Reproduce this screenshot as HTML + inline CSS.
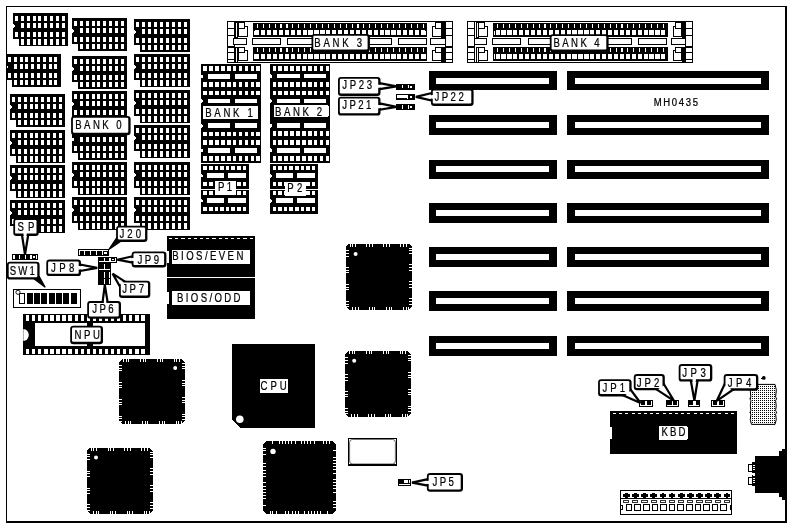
<!DOCTYPE html>
<html><head><meta charset="utf-8"><title>Motherboard layout</title>
<style>
html,body{margin:0;padding:0;background:#fff;}
svg{display:block;filter:grayscale(1);}
text{font-family:"Liberation Sans",sans-serif;fill:#000;}
</style></head><body>
<svg width="791" height="527" viewBox="0 0 791 527" shape-rendering="crispEdges">
<rect width="791" height="527" fill="#fff"/>
<rect x="6.00" y="6.00" width="781.00" height="1.00" fill="#000" />
<rect x="6.00" y="6.00" width="1.00" height="517.00" fill="#000" />
<rect x="785.00" y="6.00" width="2.00" height="517.00" fill="#000" />
<rect x="6.00" y="521.00" width="781.00" height="2.00" fill="#000" />
<defs>
<g id="ram">
<polygon points="0,0 55,0 55,33 6,33 6,26 0,26 0,15 2,14 2,12 0,11" fill="#000"/>
<rect x="2.20" y="3.00" width="3.05" height="5.00" fill="#fff" />
<rect x="8.00" y="3.00" width="3.05" height="5.00" fill="#fff" />
<rect x="13.80" y="3.00" width="3.05" height="5.00" fill="#fff" />
<rect x="19.60" y="3.00" width="3.05" height="5.00" fill="#fff" />
<rect x="25.40" y="3.00" width="3.05" height="5.00" fill="#fff" />
<rect x="31.20" y="3.00" width="3.05" height="5.00" fill="#fff" />
<rect x="37.00" y="3.00" width="3.05" height="5.00" fill="#fff" />
<rect x="42.80" y="3.00" width="3.05" height="5.00" fill="#fff" />
<rect x="48.60" y="3.00" width="3.05" height="5.00" fill="#fff" />
<rect x="8.00" y="10.00" width="3.05" height="5.00" fill="#fff" />
<rect x="13.80" y="10.00" width="3.05" height="5.00" fill="#fff" />
<rect x="19.60" y="10.00" width="3.05" height="5.00" fill="#fff" />
<rect x="25.40" y="10.00" width="3.05" height="5.00" fill="#fff" />
<rect x="31.20" y="10.00" width="3.05" height="5.00" fill="#fff" />
<rect x="37.00" y="10.00" width="3.05" height="5.00" fill="#fff" />
<rect x="42.80" y="10.00" width="3.05" height="5.00" fill="#fff" />
<rect x="48.60" y="10.00" width="3.05" height="5.00" fill="#fff" />
<rect x="2.20" y="19.00" width="3.05" height="5.00" fill="#fff" />
<rect x="8.00" y="19.00" width="3.05" height="5.00" fill="#fff" />
<rect x="13.80" y="19.00" width="3.05" height="5.00" fill="#fff" />
<rect x="19.60" y="19.00" width="3.05" height="5.00" fill="#fff" />
<rect x="25.40" y="19.00" width="3.05" height="5.00" fill="#fff" />
<rect x="31.20" y="19.00" width="3.05" height="5.00" fill="#fff" />
<rect x="37.00" y="19.00" width="3.05" height="5.00" fill="#fff" />
<rect x="42.80" y="19.00" width="3.05" height="5.00" fill="#fff" />
<rect x="48.60" y="19.00" width="3.05" height="5.00" fill="#fff" />
<rect x="8.00" y="26.00" width="3.05" height="5.50" fill="#fff" />
<rect x="13.80" y="26.00" width="3.05" height="5.50" fill="#fff" />
<rect x="19.60" y="26.00" width="3.05" height="5.50" fill="#fff" />
<rect x="25.40" y="26.00" width="3.05" height="5.50" fill="#fff" />
<rect x="31.20" y="26.00" width="3.05" height="5.50" fill="#fff" />
<rect x="37.00" y="26.00" width="3.05" height="5.50" fill="#fff" />
<rect x="42.80" y="26.00" width="3.05" height="5.50" fill="#fff" />
<rect x="48.60" y="26.00" width="3.05" height="5.50" fill="#fff" />
</g>
<g id="dip10">
<rect x="0.00" y="0.00" width="60.00" height="24.90" fill="#000" />
<rect x="2.30" y="2.30" width="3.60" height="4.40" fill="#fff" />
<rect x="2.30" y="18.20" width="3.60" height="4.60" fill="#fff" />
<rect x="8.20" y="2.30" width="3.60" height="4.40" fill="#fff" />
<rect x="8.20" y="18.20" width="3.60" height="4.60" fill="#fff" />
<rect x="14.10" y="2.30" width="3.60" height="4.40" fill="#fff" />
<rect x="14.10" y="18.20" width="3.60" height="4.60" fill="#fff" />
<rect x="20.00" y="2.30" width="3.60" height="4.40" fill="#fff" />
<rect x="20.00" y="18.20" width="3.60" height="4.60" fill="#fff" />
<rect x="25.90" y="2.30" width="3.60" height="4.40" fill="#fff" />
<rect x="25.90" y="18.20" width="3.60" height="4.60" fill="#fff" />
<rect x="31.80" y="2.30" width="3.60" height="4.40" fill="#fff" />
<rect x="31.80" y="18.20" width="3.60" height="4.60" fill="#fff" />
<rect x="37.70" y="2.30" width="3.60" height="4.40" fill="#fff" />
<rect x="37.70" y="18.20" width="3.60" height="4.60" fill="#fff" />
<rect x="43.60" y="2.30" width="3.60" height="4.40" fill="#fff" />
<rect x="43.60" y="18.20" width="3.60" height="4.60" fill="#fff" />
<rect x="49.50" y="2.30" width="3.60" height="4.40" fill="#fff" />
<rect x="49.50" y="18.20" width="3.60" height="4.60" fill="#fff" />
<rect x="55.40" y="2.30" width="3.60" height="4.40" fill="#fff" />
<rect x="55.40" y="18.20" width="3.60" height="4.60" fill="#fff" />
<rect x="7.00" y="10.00" width="22.30" height="4.60" fill="#fff" />
<rect x="34.00" y="10.00" width="21.50" height="4.60" fill="#fff" />
<polygon points="0,10.5 2,11.5 2,13.5 0,14.5" fill="#fff"/>
</g>
<g id="dip8">
<rect x="0.00" y="0.00" width="48.00" height="24.90" fill="#000" />
<rect x="2.30" y="1.50" width="3.60" height="4.20" fill="#fff" />
<rect x="2.30" y="17.30" width="3.60" height="4.80" fill="#fff" />
<rect x="7.90" y="1.50" width="3.60" height="4.20" fill="#fff" />
<rect x="7.90" y="17.30" width="3.60" height="4.80" fill="#fff" />
<rect x="13.50" y="1.50" width="3.60" height="4.20" fill="#fff" />
<rect x="13.50" y="17.30" width="3.60" height="4.80" fill="#fff" />
<rect x="19.10" y="1.50" width="3.60" height="4.20" fill="#fff" />
<rect x="19.10" y="17.30" width="3.60" height="4.80" fill="#fff" />
<rect x="24.70" y="1.50" width="3.60" height="4.20" fill="#fff" />
<rect x="24.70" y="17.30" width="3.60" height="4.80" fill="#fff" />
<rect x="30.30" y="1.50" width="3.60" height="4.20" fill="#fff" />
<rect x="30.30" y="17.30" width="3.60" height="4.80" fill="#fff" />
<rect x="35.90" y="1.50" width="3.60" height="4.20" fill="#fff" />
<rect x="35.90" y="17.30" width="3.60" height="4.80" fill="#fff" />
<rect x="41.50" y="1.50" width="3.60" height="4.20" fill="#fff" />
<rect x="41.50" y="17.30" width="3.60" height="4.80" fill="#fff" />
<rect x="5.50" y="9.20" width="17.50" height="4.30" fill="#fff" />
<rect x="27.00" y="9.20" width="18.00" height="4.30" fill="#fff" />
<polygon points="0,10 2,11 2,12.5 0,13.5" fill="#fff"/>
</g>
<pattern id="dots" width="2" height="2" patternUnits="userSpaceOnUse"><rect width="2" height="2" fill="#fff"/><rect width="1" height="1" fill="#000"/></pattern>
</defs>
<use href="#ram" x="13" y="13"/>
<use href="#ram" x="5.8" y="53.9"/>
<use href="#ram" x="10" y="93.9"/>
<use href="#ram" x="10" y="130"/>
<use href="#ram" x="10" y="165"/>
<use href="#ram" x="10" y="200.2"/>
<use href="#ram" x="72" y="17.8"/>
<use href="#ram" x="72" y="55.8"/>
<use href="#ram" x="72" y="90.8"/>
<use href="#ram" x="72" y="126.7"/>
<use href="#ram" x="72" y="162"/>
<use href="#ram" x="72" y="197"/>
<use href="#ram" transform="translate(134,18.9) scale(1.02,1)"/>
<use href="#ram" transform="translate(134,54.1) scale(1.02,1)"/>
<use href="#ram" transform="translate(134,90) scale(1.02,1)"/>
<use href="#ram" transform="translate(134,125) scale(1.02,1)"/>
<use href="#ram" transform="translate(134,162) scale(1.02,1)"/>
<use href="#ram" transform="translate(134,197) scale(1.02,1)"/>
<use href="#dip10" x="201" y="64.00"/>
<use href="#dip10" x="270.3" y="63.80"/>
<use href="#dip10" x="201" y="88.70"/>
<use href="#dip10" x="270.3" y="88.50"/>
<use href="#dip10" x="201" y="113.40"/>
<use href="#dip10" x="270.3" y="113.20"/>
<use href="#dip10" x="201" y="138.10"/>
<use href="#dip10" x="270.3" y="137.90"/>
<use href="#dip8" x="201" y="164.20"/>
<use href="#dip8" x="270.2" y="164.20"/>
<use href="#dip8" x="201" y="189.20"/>
<use href="#dip8" x="270.2" y="189.20"/>
<rect x="201.00" y="188.90" width="48.00" height="0.80" fill="#fff" />
<rect x="270.20" y="188.90" width="48.00" height="0.80" fill="#fff" />
<rect x="227.50" y="21.60" width="224.80" height="40.50" fill="#fff" stroke="#000" stroke-width="1" rx="0"/>
<rect x="227.50" y="21.60" width="6.80" height="6.50" fill="#fff" stroke="#000" stroke-width="1" rx="0"/>
<rect x="227.50" y="28.50" width="6.80" height="6.60" fill="#fff" stroke="#000" stroke-width="1" rx="0"/>
<rect x="227.50" y="35.50" width="6.80" height="11.20" fill="#fff" stroke="#000" stroke-width="1" rx="0"/>
<rect x="227.50" y="47.10" width="6.80" height="5.40" fill="#fff" stroke="#000" stroke-width="1" rx="0"/>
<rect x="227.50" y="52.90" width="6.80" height="6.40" fill="#fff" stroke="#000" stroke-width="1" rx="0"/>
<rect x="227.50" y="59.70" width="6.80" height="2.40" fill="#fff" stroke="#000" stroke-width="1" rx="0"/>
<rect x="235.30" y="21.10" width="3.10" height="16.40" fill="#000" />
<rect x="235.30" y="46.50" width="3.10" height="16.10" fill="#000" />
<rect x="236.30" y="22.60" width="1.00" height="13.90" fill="#fff" />
<rect x="236.30" y="48.00" width="1.00" height="13.60" fill="#fff" />
<rect x="238.50" y="26.70" width="8.60" height="9.60" fill="#fff" stroke="#000" stroke-width="1" rx="0"/>
<rect x="238.50" y="22.90" width="6.00" height="6.00" fill="#fff" stroke="#000" stroke-width="1" rx="0"/>
<rect x="238.50" y="50.70" width="8.60" height="9.60" fill="#fff" stroke="#000" stroke-width="1" rx="0"/>
<rect x="238.50" y="47.00" width="6.00" height="5.90" fill="#fff" stroke="#000" stroke-width="1" rx="0"/>
<rect x="233.70" y="38.80" width="12.90" height="5.70" fill="#fff" stroke="#000" stroke-width="1" rx="0"/>
<rect x="445.50" y="21.60" width="6.80" height="6.50" fill="#fff" stroke="#000" stroke-width="1" rx="0"/>
<rect x="445.50" y="28.50" width="6.80" height="6.60" fill="#fff" stroke="#000" stroke-width="1" rx="0"/>
<rect x="445.50" y="35.50" width="6.80" height="11.20" fill="#fff" stroke="#000" stroke-width="1" rx="0"/>
<rect x="445.50" y="47.10" width="6.80" height="5.40" fill="#fff" stroke="#000" stroke-width="1" rx="0"/>
<rect x="445.50" y="52.90" width="6.80" height="6.40" fill="#fff" stroke="#000" stroke-width="1" rx="0"/>
<rect x="445.50" y="59.70" width="6.80" height="2.40" fill="#fff" stroke="#000" stroke-width="1" rx="0"/>
<rect x="441.40" y="21.10" width="3.10" height="16.40" fill="#000" />
<rect x="441.40" y="46.50" width="3.10" height="16.10" fill="#000" />
<rect x="432.70" y="26.70" width="8.60" height="9.60" fill="#fff" stroke="#000" stroke-width="1" rx="0"/>
<rect x="435.30" y="22.90" width="6.00" height="6.00" fill="#fff" stroke="#000" stroke-width="1" rx="0"/>
<rect x="432.70" y="50.70" width="8.60" height="9.60" fill="#fff" stroke="#000" stroke-width="1" rx="0"/>
<rect x="435.30" y="47.00" width="6.00" height="5.90" fill="#fff" stroke="#000" stroke-width="1" rx="0"/>
<rect x="430.80" y="38.80" width="14.20" height="5.70" fill="#fff" stroke="#000" stroke-width="1" rx="0"/>
<rect x="252.60" y="23.20" width="174.60" height="13.30" fill="#000" />
<rect x="253.60" y="30.50" width="0.90" height="4.50" fill="#fff" />
<rect x="425.20" y="30.50" width="0.90" height="4.50" fill="#fff" />
<rect x="255.20" y="30.00" width="4.20" height="5.40" fill="#fff" />
<rect x="256.80" y="24.20" width="1.10" height="3.90" fill="#fff" />
<rect x="261.12" y="30.00" width="4.20" height="5.40" fill="#fff" />
<rect x="262.72" y="24.20" width="1.10" height="3.90" fill="#fff" />
<rect x="267.04" y="30.00" width="4.20" height="5.40" fill="#fff" />
<rect x="268.64" y="24.20" width="1.10" height="3.90" fill="#fff" />
<rect x="272.96" y="30.00" width="4.20" height="5.40" fill="#fff" />
<rect x="274.56" y="24.20" width="1.10" height="3.90" fill="#fff" />
<rect x="278.88" y="30.00" width="4.20" height="5.40" fill="#fff" />
<rect x="280.48" y="24.20" width="1.10" height="3.90" fill="#fff" />
<rect x="284.80" y="30.00" width="4.20" height="5.40" fill="#fff" />
<rect x="286.40" y="24.20" width="1.10" height="3.90" fill="#fff" />
<rect x="290.72" y="30.00" width="4.20" height="5.40" fill="#fff" />
<rect x="292.32" y="24.20" width="1.10" height="3.90" fill="#fff" />
<rect x="296.64" y="30.00" width="4.20" height="5.40" fill="#fff" />
<rect x="298.24" y="24.20" width="1.10" height="3.90" fill="#fff" />
<rect x="302.56" y="30.00" width="4.20" height="5.40" fill="#fff" />
<rect x="304.16" y="24.20" width="1.10" height="3.90" fill="#fff" />
<rect x="308.48" y="30.00" width="4.20" height="5.40" fill="#fff" />
<rect x="310.08" y="24.20" width="1.10" height="3.90" fill="#fff" />
<rect x="314.40" y="30.00" width="4.20" height="5.40" fill="#fff" />
<rect x="316.00" y="24.20" width="1.10" height="3.90" fill="#fff" />
<rect x="320.32" y="30.00" width="4.20" height="5.40" fill="#fff" />
<rect x="321.92" y="24.20" width="1.10" height="3.90" fill="#fff" />
<rect x="326.24" y="30.00" width="4.20" height="5.40" fill="#fff" />
<rect x="327.84" y="24.20" width="1.10" height="3.90" fill="#fff" />
<rect x="332.16" y="30.00" width="4.20" height="5.40" fill="#fff" />
<rect x="333.76" y="24.20" width="1.10" height="3.90" fill="#fff" />
<rect x="338.08" y="30.00" width="4.20" height="5.40" fill="#fff" />
<rect x="339.68" y="24.20" width="1.10" height="3.90" fill="#fff" />
<rect x="344.00" y="30.00" width="4.20" height="5.40" fill="#fff" />
<rect x="345.60" y="24.20" width="1.10" height="3.90" fill="#fff" />
<rect x="349.92" y="30.00" width="4.20" height="5.40" fill="#fff" />
<rect x="351.52" y="24.20" width="1.10" height="3.90" fill="#fff" />
<rect x="355.84" y="30.00" width="4.20" height="5.40" fill="#fff" />
<rect x="357.44" y="24.20" width="1.10" height="3.90" fill="#fff" />
<rect x="361.76" y="30.00" width="4.20" height="5.40" fill="#fff" />
<rect x="363.36" y="24.20" width="1.10" height="3.90" fill="#fff" />
<rect x="367.68" y="30.00" width="4.20" height="5.40" fill="#fff" />
<rect x="369.28" y="24.20" width="1.10" height="3.90" fill="#fff" />
<rect x="373.60" y="30.00" width="4.20" height="5.40" fill="#fff" />
<rect x="375.20" y="24.20" width="1.10" height="3.90" fill="#fff" />
<rect x="379.52" y="30.00" width="4.20" height="5.40" fill="#fff" />
<rect x="381.12" y="24.20" width="1.10" height="3.90" fill="#fff" />
<rect x="385.44" y="30.00" width="4.20" height="5.40" fill="#fff" />
<rect x="387.04" y="24.20" width="1.10" height="3.90" fill="#fff" />
<rect x="391.36" y="30.00" width="4.20" height="5.40" fill="#fff" />
<rect x="392.96" y="24.20" width="1.10" height="3.90" fill="#fff" />
<rect x="397.28" y="30.00" width="4.20" height="5.40" fill="#fff" />
<rect x="398.88" y="24.20" width="1.10" height="3.90" fill="#fff" />
<rect x="403.20" y="30.00" width="4.20" height="5.40" fill="#fff" />
<rect x="404.80" y="24.20" width="1.10" height="3.90" fill="#fff" />
<rect x="409.12" y="30.00" width="4.20" height="5.40" fill="#fff" />
<rect x="410.72" y="24.20" width="1.10" height="3.90" fill="#fff" />
<rect x="415.04" y="30.00" width="4.20" height="5.40" fill="#fff" />
<rect x="416.64" y="24.20" width="1.10" height="3.90" fill="#fff" />
<rect x="420.96" y="30.00" width="4.20" height="5.40" fill="#fff" />
<rect x="422.56" y="24.20" width="1.10" height="3.90" fill="#fff" />
<rect x="252.60" y="47.10" width="174.60" height="13.40" fill="#000" />
<rect x="253.60" y="54.40" width="0.90" height="4.60" fill="#fff" />
<rect x="425.20" y="54.40" width="0.90" height="4.60" fill="#fff" />
<rect x="255.20" y="53.90" width="4.20" height="5.50" fill="#fff" />
<rect x="256.80" y="48.10" width="1.10" height="3.90" fill="#fff" />
<rect x="261.12" y="53.90" width="4.20" height="5.50" fill="#fff" />
<rect x="262.72" y="48.10" width="1.10" height="3.90" fill="#fff" />
<rect x="267.04" y="53.90" width="4.20" height="5.50" fill="#fff" />
<rect x="268.64" y="48.10" width="1.10" height="3.90" fill="#fff" />
<rect x="272.96" y="53.90" width="4.20" height="5.50" fill="#fff" />
<rect x="274.56" y="48.10" width="1.10" height="3.90" fill="#fff" />
<rect x="278.88" y="53.90" width="4.20" height="5.50" fill="#fff" />
<rect x="280.48" y="48.10" width="1.10" height="3.90" fill="#fff" />
<rect x="284.80" y="53.90" width="4.20" height="5.50" fill="#fff" />
<rect x="286.40" y="48.10" width="1.10" height="3.90" fill="#fff" />
<rect x="290.72" y="53.90" width="4.20" height="5.50" fill="#fff" />
<rect x="292.32" y="48.10" width="1.10" height="3.90" fill="#fff" />
<rect x="296.64" y="53.90" width="4.20" height="5.50" fill="#fff" />
<rect x="298.24" y="48.10" width="1.10" height="3.90" fill="#fff" />
<rect x="302.56" y="53.90" width="4.20" height="5.50" fill="#fff" />
<rect x="304.16" y="48.10" width="1.10" height="3.90" fill="#fff" />
<rect x="308.48" y="53.90" width="4.20" height="5.50" fill="#fff" />
<rect x="310.08" y="48.10" width="1.10" height="3.90" fill="#fff" />
<rect x="314.40" y="53.90" width="4.20" height="5.50" fill="#fff" />
<rect x="316.00" y="48.10" width="1.10" height="3.90" fill="#fff" />
<rect x="320.32" y="53.90" width="4.20" height="5.50" fill="#fff" />
<rect x="321.92" y="48.10" width="1.10" height="3.90" fill="#fff" />
<rect x="326.24" y="53.90" width="4.20" height="5.50" fill="#fff" />
<rect x="327.84" y="48.10" width="1.10" height="3.90" fill="#fff" />
<rect x="332.16" y="53.90" width="4.20" height="5.50" fill="#fff" />
<rect x="333.76" y="48.10" width="1.10" height="3.90" fill="#fff" />
<rect x="338.08" y="53.90" width="4.20" height="5.50" fill="#fff" />
<rect x="339.68" y="48.10" width="1.10" height="3.90" fill="#fff" />
<rect x="344.00" y="53.90" width="4.20" height="5.50" fill="#fff" />
<rect x="345.60" y="48.10" width="1.10" height="3.90" fill="#fff" />
<rect x="349.92" y="53.90" width="4.20" height="5.50" fill="#fff" />
<rect x="351.52" y="48.10" width="1.10" height="3.90" fill="#fff" />
<rect x="355.84" y="53.90" width="4.20" height="5.50" fill="#fff" />
<rect x="357.44" y="48.10" width="1.10" height="3.90" fill="#fff" />
<rect x="361.76" y="53.90" width="4.20" height="5.50" fill="#fff" />
<rect x="363.36" y="48.10" width="1.10" height="3.90" fill="#fff" />
<rect x="367.68" y="53.90" width="4.20" height="5.50" fill="#fff" />
<rect x="369.28" y="48.10" width="1.10" height="3.90" fill="#fff" />
<rect x="373.60" y="53.90" width="4.20" height="5.50" fill="#fff" />
<rect x="375.20" y="48.10" width="1.10" height="3.90" fill="#fff" />
<rect x="379.52" y="53.90" width="4.20" height="5.50" fill="#fff" />
<rect x="381.12" y="48.10" width="1.10" height="3.90" fill="#fff" />
<rect x="385.44" y="53.90" width="4.20" height="5.50" fill="#fff" />
<rect x="387.04" y="48.10" width="1.10" height="3.90" fill="#fff" />
<rect x="391.36" y="53.90" width="4.20" height="5.50" fill="#fff" />
<rect x="392.96" y="48.10" width="1.10" height="3.90" fill="#fff" />
<rect x="397.28" y="53.90" width="4.20" height="5.50" fill="#fff" />
<rect x="398.88" y="48.10" width="1.10" height="3.90" fill="#fff" />
<rect x="403.20" y="53.90" width="4.20" height="5.50" fill="#fff" />
<rect x="404.80" y="48.10" width="1.10" height="3.90" fill="#fff" />
<rect x="409.12" y="53.90" width="4.20" height="5.50" fill="#fff" />
<rect x="410.72" y="48.10" width="1.10" height="3.90" fill="#fff" />
<rect x="415.04" y="53.90" width="4.20" height="5.50" fill="#fff" />
<rect x="416.64" y="48.10" width="1.10" height="3.90" fill="#fff" />
<rect x="420.96" y="53.90" width="4.20" height="5.50" fill="#fff" />
<rect x="422.56" y="48.10" width="1.10" height="3.90" fill="#fff" />
<rect x="252.10" y="38.80" width="28.10" height="5.70" fill="#fff" stroke="#000" stroke-width="1" rx="0"/>
<rect x="287.90" y="38.80" width="30.10" height="5.70" fill="#fff" stroke="#000" stroke-width="1" rx="0"/>
<rect x="325.50" y="38.80" width="28.00" height="5.70" fill="#fff" stroke="#000" stroke-width="1" rx="0"/>
<rect x="361.00" y="38.80" width="30.50" height="5.70" fill="#fff" stroke="#000" stroke-width="1" rx="0"/>
<rect x="398.10" y="38.80" width="27.90" height="5.70" fill="#fff" stroke="#000" stroke-width="1" rx="0"/>
<rect x="467.80" y="21.60" width="224.80" height="40.50" fill="#fff" stroke="#000" stroke-width="1" rx="0"/>
<rect x="467.80" y="21.60" width="6.80" height="6.50" fill="#fff" stroke="#000" stroke-width="1" rx="0"/>
<rect x="467.80" y="28.50" width="6.80" height="6.60" fill="#fff" stroke="#000" stroke-width="1" rx="0"/>
<rect x="467.80" y="35.50" width="6.80" height="11.20" fill="#fff" stroke="#000" stroke-width="1" rx="0"/>
<rect x="467.80" y="47.10" width="6.80" height="5.40" fill="#fff" stroke="#000" stroke-width="1" rx="0"/>
<rect x="467.80" y="52.90" width="6.80" height="6.40" fill="#fff" stroke="#000" stroke-width="1" rx="0"/>
<rect x="467.80" y="59.70" width="6.80" height="2.40" fill="#fff" stroke="#000" stroke-width="1" rx="0"/>
<rect x="475.60" y="21.10" width="3.10" height="16.40" fill="#000" />
<rect x="475.60" y="46.50" width="3.10" height="16.10" fill="#000" />
<rect x="476.60" y="22.60" width="1.00" height="13.90" fill="#fff" />
<rect x="476.60" y="48.00" width="1.00" height="13.60" fill="#fff" />
<rect x="478.80" y="26.70" width="8.60" height="9.60" fill="#fff" stroke="#000" stroke-width="1" rx="0"/>
<rect x="478.80" y="22.90" width="6.00" height="6.00" fill="#fff" stroke="#000" stroke-width="1" rx="0"/>
<rect x="478.80" y="50.70" width="8.60" height="9.60" fill="#fff" stroke="#000" stroke-width="1" rx="0"/>
<rect x="478.80" y="47.00" width="6.00" height="5.90" fill="#fff" stroke="#000" stroke-width="1" rx="0"/>
<rect x="474.00" y="38.80" width="12.90" height="5.70" fill="#fff" stroke="#000" stroke-width="1" rx="0"/>
<rect x="685.80" y="21.60" width="6.80" height="6.50" fill="#fff" stroke="#000" stroke-width="1" rx="0"/>
<rect x="685.80" y="28.50" width="6.80" height="6.60" fill="#fff" stroke="#000" stroke-width="1" rx="0"/>
<rect x="685.80" y="35.50" width="6.80" height="11.20" fill="#fff" stroke="#000" stroke-width="1" rx="0"/>
<rect x="685.80" y="47.10" width="6.80" height="5.40" fill="#fff" stroke="#000" stroke-width="1" rx="0"/>
<rect x="685.80" y="52.90" width="6.80" height="6.40" fill="#fff" stroke="#000" stroke-width="1" rx="0"/>
<rect x="685.80" y="59.70" width="6.80" height="2.40" fill="#fff" stroke="#000" stroke-width="1" rx="0"/>
<rect x="681.70" y="21.10" width="3.10" height="16.40" fill="#000" />
<rect x="681.70" y="46.50" width="3.10" height="16.10" fill="#000" />
<rect x="673.00" y="26.70" width="8.60" height="9.60" fill="#fff" stroke="#000" stroke-width="1" rx="0"/>
<rect x="675.60" y="22.90" width="6.00" height="6.00" fill="#fff" stroke="#000" stroke-width="1" rx="0"/>
<rect x="673.00" y="50.70" width="8.60" height="9.60" fill="#fff" stroke="#000" stroke-width="1" rx="0"/>
<rect x="675.60" y="47.00" width="6.00" height="5.90" fill="#fff" stroke="#000" stroke-width="1" rx="0"/>
<rect x="671.10" y="38.80" width="14.20" height="5.70" fill="#fff" stroke="#000" stroke-width="1" rx="0"/>
<rect x="492.90" y="23.20" width="174.60" height="13.30" fill="#000" />
<rect x="493.90" y="30.50" width="0.90" height="4.50" fill="#fff" />
<rect x="665.50" y="30.50" width="0.90" height="4.50" fill="#fff" />
<rect x="495.50" y="30.00" width="4.20" height="5.40" fill="#fff" />
<rect x="497.10" y="24.20" width="1.10" height="3.90" fill="#fff" />
<rect x="501.42" y="30.00" width="4.20" height="5.40" fill="#fff" />
<rect x="503.02" y="24.20" width="1.10" height="3.90" fill="#fff" />
<rect x="507.34" y="30.00" width="4.20" height="5.40" fill="#fff" />
<rect x="508.94" y="24.20" width="1.10" height="3.90" fill="#fff" />
<rect x="513.26" y="30.00" width="4.20" height="5.40" fill="#fff" />
<rect x="514.86" y="24.20" width="1.10" height="3.90" fill="#fff" />
<rect x="519.18" y="30.00" width="4.20" height="5.40" fill="#fff" />
<rect x="520.78" y="24.20" width="1.10" height="3.90" fill="#fff" />
<rect x="525.10" y="30.00" width="4.20" height="5.40" fill="#fff" />
<rect x="526.70" y="24.20" width="1.10" height="3.90" fill="#fff" />
<rect x="531.02" y="30.00" width="4.20" height="5.40" fill="#fff" />
<rect x="532.62" y="24.20" width="1.10" height="3.90" fill="#fff" />
<rect x="536.94" y="30.00" width="4.20" height="5.40" fill="#fff" />
<rect x="538.54" y="24.20" width="1.10" height="3.90" fill="#fff" />
<rect x="542.86" y="30.00" width="4.20" height="5.40" fill="#fff" />
<rect x="544.46" y="24.20" width="1.10" height="3.90" fill="#fff" />
<rect x="548.78" y="30.00" width="4.20" height="5.40" fill="#fff" />
<rect x="550.38" y="24.20" width="1.10" height="3.90" fill="#fff" />
<rect x="554.70" y="30.00" width="4.20" height="5.40" fill="#fff" />
<rect x="556.30" y="24.20" width="1.10" height="3.90" fill="#fff" />
<rect x="560.62" y="30.00" width="4.20" height="5.40" fill="#fff" />
<rect x="562.22" y="24.20" width="1.10" height="3.90" fill="#fff" />
<rect x="566.54" y="30.00" width="4.20" height="5.40" fill="#fff" />
<rect x="568.14" y="24.20" width="1.10" height="3.90" fill="#fff" />
<rect x="572.46" y="30.00" width="4.20" height="5.40" fill="#fff" />
<rect x="574.06" y="24.20" width="1.10" height="3.90" fill="#fff" />
<rect x="578.38" y="30.00" width="4.20" height="5.40" fill="#fff" />
<rect x="579.98" y="24.20" width="1.10" height="3.90" fill="#fff" />
<rect x="584.30" y="30.00" width="4.20" height="5.40" fill="#fff" />
<rect x="585.90" y="24.20" width="1.10" height="3.90" fill="#fff" />
<rect x="590.22" y="30.00" width="4.20" height="5.40" fill="#fff" />
<rect x="591.82" y="24.20" width="1.10" height="3.90" fill="#fff" />
<rect x="596.14" y="30.00" width="4.20" height="5.40" fill="#fff" />
<rect x="597.74" y="24.20" width="1.10" height="3.90" fill="#fff" />
<rect x="602.06" y="30.00" width="4.20" height="5.40" fill="#fff" />
<rect x="603.66" y="24.20" width="1.10" height="3.90" fill="#fff" />
<rect x="607.98" y="30.00" width="4.20" height="5.40" fill="#fff" />
<rect x="609.58" y="24.20" width="1.10" height="3.90" fill="#fff" />
<rect x="613.90" y="30.00" width="4.20" height="5.40" fill="#fff" />
<rect x="615.50" y="24.20" width="1.10" height="3.90" fill="#fff" />
<rect x="619.82" y="30.00" width="4.20" height="5.40" fill="#fff" />
<rect x="621.42" y="24.20" width="1.10" height="3.90" fill="#fff" />
<rect x="625.74" y="30.00" width="4.20" height="5.40" fill="#fff" />
<rect x="627.34" y="24.20" width="1.10" height="3.90" fill="#fff" />
<rect x="631.66" y="30.00" width="4.20" height="5.40" fill="#fff" />
<rect x="633.26" y="24.20" width="1.10" height="3.90" fill="#fff" />
<rect x="637.58" y="30.00" width="4.20" height="5.40" fill="#fff" />
<rect x="639.18" y="24.20" width="1.10" height="3.90" fill="#fff" />
<rect x="643.50" y="30.00" width="4.20" height="5.40" fill="#fff" />
<rect x="645.10" y="24.20" width="1.10" height="3.90" fill="#fff" />
<rect x="649.42" y="30.00" width="4.20" height="5.40" fill="#fff" />
<rect x="651.02" y="24.20" width="1.10" height="3.90" fill="#fff" />
<rect x="655.34" y="30.00" width="4.20" height="5.40" fill="#fff" />
<rect x="656.94" y="24.20" width="1.10" height="3.90" fill="#fff" />
<rect x="661.26" y="30.00" width="4.20" height="5.40" fill="#fff" />
<rect x="662.86" y="24.20" width="1.10" height="3.90" fill="#fff" />
<rect x="492.90" y="47.10" width="174.60" height="13.40" fill="#000" />
<rect x="493.90" y="54.40" width="0.90" height="4.60" fill="#fff" />
<rect x="665.50" y="54.40" width="0.90" height="4.60" fill="#fff" />
<rect x="495.50" y="53.90" width="4.20" height="5.50" fill="#fff" />
<rect x="497.10" y="48.10" width="1.10" height="3.90" fill="#fff" />
<rect x="501.42" y="53.90" width="4.20" height="5.50" fill="#fff" />
<rect x="503.02" y="48.10" width="1.10" height="3.90" fill="#fff" />
<rect x="507.34" y="53.90" width="4.20" height="5.50" fill="#fff" />
<rect x="508.94" y="48.10" width="1.10" height="3.90" fill="#fff" />
<rect x="513.26" y="53.90" width="4.20" height="5.50" fill="#fff" />
<rect x="514.86" y="48.10" width="1.10" height="3.90" fill="#fff" />
<rect x="519.18" y="53.90" width="4.20" height="5.50" fill="#fff" />
<rect x="520.78" y="48.10" width="1.10" height="3.90" fill="#fff" />
<rect x="525.10" y="53.90" width="4.20" height="5.50" fill="#fff" />
<rect x="526.70" y="48.10" width="1.10" height="3.90" fill="#fff" />
<rect x="531.02" y="53.90" width="4.20" height="5.50" fill="#fff" />
<rect x="532.62" y="48.10" width="1.10" height="3.90" fill="#fff" />
<rect x="536.94" y="53.90" width="4.20" height="5.50" fill="#fff" />
<rect x="538.54" y="48.10" width="1.10" height="3.90" fill="#fff" />
<rect x="542.86" y="53.90" width="4.20" height="5.50" fill="#fff" />
<rect x="544.46" y="48.10" width="1.10" height="3.90" fill="#fff" />
<rect x="548.78" y="53.90" width="4.20" height="5.50" fill="#fff" />
<rect x="550.38" y="48.10" width="1.10" height="3.90" fill="#fff" />
<rect x="554.70" y="53.90" width="4.20" height="5.50" fill="#fff" />
<rect x="556.30" y="48.10" width="1.10" height="3.90" fill="#fff" />
<rect x="560.62" y="53.90" width="4.20" height="5.50" fill="#fff" />
<rect x="562.22" y="48.10" width="1.10" height="3.90" fill="#fff" />
<rect x="566.54" y="53.90" width="4.20" height="5.50" fill="#fff" />
<rect x="568.14" y="48.10" width="1.10" height="3.90" fill="#fff" />
<rect x="572.46" y="53.90" width="4.20" height="5.50" fill="#fff" />
<rect x="574.06" y="48.10" width="1.10" height="3.90" fill="#fff" />
<rect x="578.38" y="53.90" width="4.20" height="5.50" fill="#fff" />
<rect x="579.98" y="48.10" width="1.10" height="3.90" fill="#fff" />
<rect x="584.30" y="53.90" width="4.20" height="5.50" fill="#fff" />
<rect x="585.90" y="48.10" width="1.10" height="3.90" fill="#fff" />
<rect x="590.22" y="53.90" width="4.20" height="5.50" fill="#fff" />
<rect x="591.82" y="48.10" width="1.10" height="3.90" fill="#fff" />
<rect x="596.14" y="53.90" width="4.20" height="5.50" fill="#fff" />
<rect x="597.74" y="48.10" width="1.10" height="3.90" fill="#fff" />
<rect x="602.06" y="53.90" width="4.20" height="5.50" fill="#fff" />
<rect x="603.66" y="48.10" width="1.10" height="3.90" fill="#fff" />
<rect x="607.98" y="53.90" width="4.20" height="5.50" fill="#fff" />
<rect x="609.58" y="48.10" width="1.10" height="3.90" fill="#fff" />
<rect x="613.90" y="53.90" width="4.20" height="5.50" fill="#fff" />
<rect x="615.50" y="48.10" width="1.10" height="3.90" fill="#fff" />
<rect x="619.82" y="53.90" width="4.20" height="5.50" fill="#fff" />
<rect x="621.42" y="48.10" width="1.10" height="3.90" fill="#fff" />
<rect x="625.74" y="53.90" width="4.20" height="5.50" fill="#fff" />
<rect x="627.34" y="48.10" width="1.10" height="3.90" fill="#fff" />
<rect x="631.66" y="53.90" width="4.20" height="5.50" fill="#fff" />
<rect x="633.26" y="48.10" width="1.10" height="3.90" fill="#fff" />
<rect x="637.58" y="53.90" width="4.20" height="5.50" fill="#fff" />
<rect x="639.18" y="48.10" width="1.10" height="3.90" fill="#fff" />
<rect x="643.50" y="53.90" width="4.20" height="5.50" fill="#fff" />
<rect x="645.10" y="48.10" width="1.10" height="3.90" fill="#fff" />
<rect x="649.42" y="53.90" width="4.20" height="5.50" fill="#fff" />
<rect x="651.02" y="48.10" width="1.10" height="3.90" fill="#fff" />
<rect x="655.34" y="53.90" width="4.20" height="5.50" fill="#fff" />
<rect x="656.94" y="48.10" width="1.10" height="3.90" fill="#fff" />
<rect x="661.26" y="53.90" width="4.20" height="5.50" fill="#fff" />
<rect x="662.86" y="48.10" width="1.10" height="3.90" fill="#fff" />
<rect x="492.40" y="38.80" width="28.10" height="5.70" fill="#fff" stroke="#000" stroke-width="1" rx="0"/>
<rect x="528.20" y="38.80" width="30.10" height="5.70" fill="#fff" stroke="#000" stroke-width="1" rx="0"/>
<rect x="565.80" y="38.80" width="28.00" height="5.70" fill="#fff" stroke="#000" stroke-width="1" rx="0"/>
<rect x="601.30" y="38.80" width="30.50" height="5.70" fill="#fff" stroke="#000" stroke-width="1" rx="0"/>
<rect x="638.40" y="38.80" width="27.90" height="5.70" fill="#fff" stroke="#000" stroke-width="1" rx="0"/>
<rect x="429.00" y="71.00" width="128.00" height="19.00" fill="#000" />
<rect x="436.00" y="78.00" width="113.00" height="6.00" fill="#fff" />
<rect x="567.00" y="71.00" width="202.00" height="19.00" fill="#000" />
<rect x="575.00" y="78.00" width="186.00" height="6.00" fill="#fff" />
<rect x="429.00" y="115.00" width="128.00" height="20.00" fill="#000" />
<rect x="436.00" y="122.00" width="113.00" height="6.00" fill="#fff" />
<rect x="567.00" y="115.00" width="202.00" height="20.00" fill="#000" />
<rect x="575.00" y="122.00" width="186.00" height="6.00" fill="#fff" />
<rect x="429.00" y="160.00" width="128.00" height="19.00" fill="#000" />
<rect x="436.00" y="166.00" width="113.00" height="6.00" fill="#fff" />
<rect x="567.00" y="160.00" width="202.00" height="19.00" fill="#000" />
<rect x="575.00" y="166.00" width="186.00" height="6.00" fill="#fff" />
<rect x="429.00" y="203.00" width="128.00" height="20.00" fill="#000" />
<rect x="436.00" y="210.00" width="113.00" height="6.00" fill="#fff" />
<rect x="567.00" y="203.00" width="202.00" height="20.00" fill="#000" />
<rect x="575.00" y="210.00" width="186.00" height="6.00" fill="#fff" />
<rect x="429.00" y="247.00" width="128.00" height="20.00" fill="#000" />
<rect x="436.00" y="254.00" width="113.00" height="6.00" fill="#fff" />
<rect x="567.00" y="247.00" width="202.00" height="20.00" fill="#000" />
<rect x="575.00" y="254.00" width="186.00" height="6.00" fill="#fff" />
<rect x="429.00" y="291.00" width="128.00" height="20.00" fill="#000" />
<rect x="436.00" y="298.00" width="113.00" height="6.00" fill="#fff" />
<rect x="567.00" y="291.00" width="202.00" height="20.00" fill="#000" />
<rect x="575.00" y="298.00" width="186.00" height="6.00" fill="#fff" />
<rect x="429.00" y="336.00" width="128.00" height="20.00" fill="#000" />
<rect x="436.00" y="343.00" width="113.00" height="6.00" fill="#fff" />
<rect x="567.00" y="336.00" width="202.00" height="20.00" fill="#000" />
<rect x="575.00" y="343.00" width="186.00" height="6.00" fill="#fff" />
<rect x="167.00" y="236.00" width="88.00" height="83.00" fill="#000" />
<line x1="169" y1="238.5" x2="254" y2="238.5" stroke="#fff" stroke-width="1" stroke-dasharray="3.2,3"/>
<rect x="167.00" y="277.00" width="88.00" height="1.00" fill="#fff" />
<rect x="167.10" y="292.00" width="2.00" height="11.50" fill="#fff" />
<rect x="167.10" y="251.00" width="2.00" height="11.50" fill="#fff" />
<polygon points="122.5,359 181.6,359 185.1,362.5 185.1,420.5 181.6,424 122.5,424 119,420.5 119,362.5" fill="#000"/>
<rect x="123.00" y="359.00" width="1.00" height="3.00" fill="#fff" />
<rect x="182.10" y="363.00" width="3.00" height="1.00" fill="#fff" />
<rect x="126.00" y="359.00" width="1.00" height="3.00" fill="#fff" />
<rect x="182.10" y="366.00" width="3.00" height="1.00" fill="#fff" />
<rect x="128.00" y="359.00" width="1.00" height="3.00" fill="#fff" />
<rect x="182.10" y="368.00" width="3.00" height="1.00" fill="#fff" />
<rect x="140.00" y="359.00" width="1.00" height="3.00" fill="#fff" />
<rect x="182.10" y="380.00" width="3.00" height="1.00" fill="#fff" />
<rect x="143.00" y="359.00" width="1.00" height="3.00" fill="#fff" />
<rect x="182.10" y="383.00" width="3.00" height="1.00" fill="#fff" />
<rect x="145.00" y="359.00" width="1.00" height="3.00" fill="#fff" />
<rect x="182.10" y="385.00" width="3.00" height="1.00" fill="#fff" />
<rect x="157.00" y="359.00" width="1.00" height="3.00" fill="#fff" />
<rect x="182.10" y="397.00" width="3.00" height="1.00" fill="#fff" />
<rect x="160.00" y="359.00" width="1.00" height="3.00" fill="#fff" />
<rect x="182.10" y="400.00" width="3.00" height="1.00" fill="#fff" />
<rect x="162.00" y="359.00" width="1.00" height="3.00" fill="#fff" />
<rect x="182.10" y="402.00" width="3.00" height="1.00" fill="#fff" />
<rect x="174.00" y="359.00" width="1.00" height="3.00" fill="#fff" />
<rect x="182.10" y="414.00" width="3.00" height="1.00" fill="#fff" />
<rect x="176.00" y="359.00" width="1.00" height="3.00" fill="#fff" />
<rect x="182.10" y="416.00" width="3.00" height="1.00" fill="#fff" />
<rect x="179.00" y="359.00" width="1.00" height="3.00" fill="#fff" />
<rect x="182.10" y="419.00" width="3.00" height="1.00" fill="#fff" />
<rect x="181.00" y="421.00" width="1.00" height="3.00" fill="#fff" />
<rect x="119.00" y="421.00" width="3.00" height="1.00" fill="#fff" />
<rect x="178.00" y="421.00" width="1.00" height="3.00" fill="#fff" />
<rect x="119.00" y="418.00" width="3.00" height="1.00" fill="#fff" />
<rect x="176.00" y="421.00" width="1.00" height="3.00" fill="#fff" />
<rect x="119.00" y="416.00" width="3.00" height="1.00" fill="#fff" />
<rect x="164.00" y="421.00" width="1.00" height="3.00" fill="#fff" />
<rect x="119.00" y="404.00" width="3.00" height="1.00" fill="#fff" />
<rect x="162.00" y="421.00" width="1.00" height="3.00" fill="#fff" />
<rect x="119.00" y="402.00" width="3.00" height="1.00" fill="#fff" />
<rect x="159.00" y="421.00" width="1.00" height="3.00" fill="#fff" />
<rect x="119.00" y="399.00" width="3.00" height="1.00" fill="#fff" />
<rect x="147.00" y="421.00" width="1.00" height="3.00" fill="#fff" />
<rect x="119.00" y="387.00" width="3.00" height="1.00" fill="#fff" />
<rect x="145.00" y="421.00" width="1.00" height="3.00" fill="#fff" />
<rect x="119.00" y="385.00" width="3.00" height="1.00" fill="#fff" />
<rect x="142.00" y="421.00" width="1.00" height="3.00" fill="#fff" />
<rect x="119.00" y="382.00" width="3.00" height="1.00" fill="#fff" />
<rect x="130.00" y="421.00" width="1.00" height="3.00" fill="#fff" />
<rect x="119.00" y="370.00" width="3.00" height="1.00" fill="#fff" />
<rect x="128.00" y="421.00" width="1.00" height="3.00" fill="#fff" />
<rect x="119.00" y="368.00" width="3.00" height="1.00" fill="#fff" />
<rect x="125.00" y="421.00" width="1.00" height="3.00" fill="#fff" />
<rect x="119.00" y="365.00" width="3.00" height="1.00" fill="#fff" />
<circle cx="175.2" cy="367.9" r="2" fill="#fff" shape-rendering="geometricPrecision"/>
<polygon points="90.2,447.6 149.5,447.6 153,451.1 153,510.29999999999995 149.5,513.8 90.2,513.8 86.7,510.29999999999995 86.7,451.1" fill="#000"/>
<rect x="91.00" y="447.60" width="1.00" height="3.00" fill="#fff" />
<rect x="150.00" y="452.00" width="3.00" height="1.00" fill="#fff" />
<rect x="93.00" y="447.60" width="1.00" height="3.00" fill="#fff" />
<rect x="150.00" y="454.00" width="3.00" height="1.00" fill="#fff" />
<rect x="96.00" y="447.60" width="1.00" height="3.00" fill="#fff" />
<rect x="150.00" y="457.00" width="3.00" height="1.00" fill="#fff" />
<rect x="108.00" y="447.60" width="1.00" height="3.00" fill="#fff" />
<rect x="150.00" y="468.00" width="3.00" height="1.00" fill="#fff" />
<rect x="110.00" y="447.60" width="1.00" height="3.00" fill="#fff" />
<rect x="150.00" y="471.00" width="3.00" height="1.00" fill="#fff" />
<rect x="113.00" y="447.60" width="1.00" height="3.00" fill="#fff" />
<rect x="150.00" y="474.00" width="3.00" height="1.00" fill="#fff" />
<rect x="124.00" y="447.60" width="1.00" height="3.00" fill="#fff" />
<rect x="150.00" y="485.00" width="3.00" height="1.00" fill="#fff" />
<rect x="127.00" y="447.60" width="1.00" height="3.00" fill="#fff" />
<rect x="150.00" y="488.00" width="3.00" height="1.00" fill="#fff" />
<rect x="130.00" y="447.60" width="1.00" height="3.00" fill="#fff" />
<rect x="150.00" y="491.00" width="3.00" height="1.00" fill="#fff" />
<rect x="141.00" y="447.60" width="1.00" height="3.00" fill="#fff" />
<rect x="150.00" y="502.00" width="3.00" height="1.00" fill="#fff" />
<rect x="144.00" y="447.60" width="1.00" height="3.00" fill="#fff" />
<rect x="150.00" y="505.00" width="3.00" height="1.00" fill="#fff" />
<rect x="147.00" y="447.60" width="1.00" height="3.00" fill="#fff" />
<rect x="150.00" y="508.00" width="3.00" height="1.00" fill="#fff" />
<rect x="149.00" y="510.80" width="1.00" height="3.00" fill="#fff" />
<rect x="86.70" y="510.00" width="3.00" height="1.00" fill="#fff" />
<rect x="146.00" y="510.80" width="1.00" height="3.00" fill="#fff" />
<rect x="86.70" y="507.00" width="3.00" height="1.00" fill="#fff" />
<rect x="144.00" y="510.80" width="1.00" height="3.00" fill="#fff" />
<rect x="86.70" y="504.00" width="3.00" height="1.00" fill="#fff" />
<rect x="132.00" y="510.80" width="1.00" height="3.00" fill="#fff" />
<rect x="86.70" y="493.00" width="3.00" height="1.00" fill="#fff" />
<rect x="129.00" y="510.80" width="1.00" height="3.00" fill="#fff" />
<rect x="86.70" y="490.00" width="3.00" height="1.00" fill="#fff" />
<rect x="127.00" y="510.80" width="1.00" height="3.00" fill="#fff" />
<rect x="86.70" y="488.00" width="3.00" height="1.00" fill="#fff" />
<rect x="115.00" y="510.80" width="1.00" height="3.00" fill="#fff" />
<rect x="86.70" y="476.00" width="3.00" height="1.00" fill="#fff" />
<rect x="112.00" y="510.80" width="1.00" height="3.00" fill="#fff" />
<rect x="86.70" y="473.00" width="3.00" height="1.00" fill="#fff" />
<rect x="110.00" y="510.80" width="1.00" height="3.00" fill="#fff" />
<rect x="86.70" y="471.00" width="3.00" height="1.00" fill="#fff" />
<rect x="98.00" y="510.80" width="1.00" height="3.00" fill="#fff" />
<rect x="86.70" y="459.00" width="3.00" height="1.00" fill="#fff" />
<rect x="96.00" y="510.80" width="1.00" height="3.00" fill="#fff" />
<rect x="86.70" y="456.00" width="3.00" height="1.00" fill="#fff" />
<rect x="93.00" y="510.80" width="1.00" height="3.00" fill="#fff" />
<rect x="86.70" y="454.00" width="3.00" height="1.00" fill="#fff" />
<circle cx="96" cy="457.5" r="2" fill="#fff" shape-rendering="geometricPrecision"/>
<polygon points="349.2,243.7 408.7,243.7 412.2,247.2 412.2,306.6 408.7,310.1 349.2,310.1 345.7,306.6 345.7,247.2" fill="#000"/>
<rect x="350.00" y="243.70" width="1.00" height="3.00" fill="#fff" />
<rect x="409.20" y="248.00" width="3.00" height="1.00" fill="#fff" />
<rect x="352.00" y="243.70" width="1.00" height="3.00" fill="#fff" />
<rect x="409.20" y="250.00" width="3.00" height="1.00" fill="#fff" />
<rect x="355.00" y="243.70" width="1.00" height="3.00" fill="#fff" />
<rect x="409.20" y="253.00" width="3.00" height="1.00" fill="#fff" />
<rect x="366.00" y="243.70" width="1.00" height="3.00" fill="#fff" />
<rect x="409.20" y="264.00" width="3.00" height="1.00" fill="#fff" />
<rect x="369.00" y="243.70" width="1.00" height="3.00" fill="#fff" />
<rect x="409.20" y="267.00" width="3.00" height="1.00" fill="#fff" />
<rect x="372.00" y="243.70" width="1.00" height="3.00" fill="#fff" />
<rect x="409.20" y="270.00" width="3.00" height="1.00" fill="#fff" />
<rect x="383.00" y="243.70" width="1.00" height="3.00" fill="#fff" />
<rect x="409.20" y="281.00" width="3.00" height="1.00" fill="#fff" />
<rect x="386.00" y="243.70" width="1.00" height="3.00" fill="#fff" />
<rect x="409.20" y="284.00" width="3.00" height="1.00" fill="#fff" />
<rect x="389.00" y="243.70" width="1.00" height="3.00" fill="#fff" />
<rect x="409.20" y="287.00" width="3.00" height="1.00" fill="#fff" />
<rect x="400.00" y="243.70" width="1.00" height="3.00" fill="#fff" />
<rect x="409.20" y="298.00" width="3.00" height="1.00" fill="#fff" />
<rect x="403.00" y="243.70" width="1.00" height="3.00" fill="#fff" />
<rect x="409.20" y="301.00" width="3.00" height="1.00" fill="#fff" />
<rect x="406.00" y="243.70" width="1.00" height="3.00" fill="#fff" />
<rect x="409.20" y="304.00" width="3.00" height="1.00" fill="#fff" />
<rect x="408.00" y="307.10" width="1.00" height="3.00" fill="#fff" />
<rect x="345.70" y="306.00" width="3.00" height="1.00" fill="#fff" />
<rect x="406.00" y="307.10" width="1.00" height="3.00" fill="#fff" />
<rect x="345.70" y="304.00" width="3.00" height="1.00" fill="#fff" />
<rect x="403.00" y="307.10" width="1.00" height="3.00" fill="#fff" />
<rect x="345.70" y="301.00" width="3.00" height="1.00" fill="#fff" />
<rect x="391.00" y="307.10" width="1.00" height="3.00" fill="#fff" />
<rect x="345.70" y="289.00" width="3.00" height="1.00" fill="#fff" />
<rect x="389.00" y="307.10" width="1.00" height="3.00" fill="#fff" />
<rect x="345.70" y="287.00" width="3.00" height="1.00" fill="#fff" />
<rect x="386.00" y="307.10" width="1.00" height="3.00" fill="#fff" />
<rect x="345.70" y="284.00" width="3.00" height="1.00" fill="#fff" />
<rect x="374.00" y="307.10" width="1.00" height="3.00" fill="#fff" />
<rect x="345.70" y="272.00" width="3.00" height="1.00" fill="#fff" />
<rect x="372.00" y="307.10" width="1.00" height="3.00" fill="#fff" />
<rect x="345.70" y="270.00" width="3.00" height="1.00" fill="#fff" />
<rect x="369.00" y="307.10" width="1.00" height="3.00" fill="#fff" />
<rect x="345.70" y="267.00" width="3.00" height="1.00" fill="#fff" />
<rect x="358.00" y="307.10" width="1.00" height="3.00" fill="#fff" />
<rect x="345.70" y="256.00" width="3.00" height="1.00" fill="#fff" />
<rect x="355.00" y="307.10" width="1.00" height="3.00" fill="#fff" />
<rect x="345.70" y="253.00" width="3.00" height="1.00" fill="#fff" />
<rect x="352.00" y="307.10" width="1.00" height="3.00" fill="#fff" />
<rect x="345.70" y="250.00" width="3.00" height="1.00" fill="#fff" />
<circle cx="355.6" cy="254" r="2" fill="#fff" shape-rendering="geometricPrecision"/>
<polygon points="348.5,351 407.8,351 411.3,354.5 411.3,413.1 407.8,416.6 348.5,416.6 345,413.1 345,354.5" fill="#000"/>
<rect x="349.00" y="351.00" width="1.00" height="3.00" fill="#fff" />
<rect x="408.30" y="355.00" width="3.00" height="1.00" fill="#fff" />
<rect x="352.00" y="351.00" width="1.00" height="3.00" fill="#fff" />
<rect x="408.30" y="358.00" width="3.00" height="1.00" fill="#fff" />
<rect x="354.00" y="351.00" width="1.00" height="3.00" fill="#fff" />
<rect x="408.30" y="360.00" width="3.00" height="1.00" fill="#fff" />
<rect x="366.00" y="351.00" width="1.00" height="3.00" fill="#fff" />
<rect x="408.30" y="372.00" width="3.00" height="1.00" fill="#fff" />
<rect x="369.00" y="351.00" width="1.00" height="3.00" fill="#fff" />
<rect x="408.30" y="375.00" width="3.00" height="1.00" fill="#fff" />
<rect x="371.00" y="351.00" width="1.00" height="3.00" fill="#fff" />
<rect x="408.30" y="377.00" width="3.00" height="1.00" fill="#fff" />
<rect x="383.00" y="351.00" width="1.00" height="3.00" fill="#fff" />
<rect x="408.30" y="389.00" width="3.00" height="1.00" fill="#fff" />
<rect x="386.00" y="351.00" width="1.00" height="3.00" fill="#fff" />
<rect x="408.30" y="392.00" width="3.00" height="1.00" fill="#fff" />
<rect x="388.00" y="351.00" width="1.00" height="3.00" fill="#fff" />
<rect x="408.30" y="394.00" width="3.00" height="1.00" fill="#fff" />
<rect x="400.00" y="351.00" width="1.00" height="3.00" fill="#fff" />
<rect x="408.30" y="406.00" width="3.00" height="1.00" fill="#fff" />
<rect x="402.00" y="351.00" width="1.00" height="3.00" fill="#fff" />
<rect x="408.30" y="408.00" width="3.00" height="1.00" fill="#fff" />
<rect x="405.00" y="351.00" width="1.00" height="3.00" fill="#fff" />
<rect x="408.30" y="411.00" width="3.00" height="1.00" fill="#fff" />
<rect x="407.00" y="413.60" width="1.00" height="3.00" fill="#fff" />
<rect x="345.00" y="413.00" width="3.00" height="1.00" fill="#fff" />
<rect x="405.00" y="413.60" width="1.00" height="3.00" fill="#fff" />
<rect x="345.00" y="411.00" width="3.00" height="1.00" fill="#fff" />
<rect x="402.00" y="413.60" width="1.00" height="3.00" fill="#fff" />
<rect x="345.00" y="408.00" width="3.00" height="1.00" fill="#fff" />
<rect x="390.00" y="413.60" width="1.00" height="3.00" fill="#fff" />
<rect x="345.00" y="396.00" width="3.00" height="1.00" fill="#fff" />
<rect x="388.00" y="413.60" width="1.00" height="3.00" fill="#fff" />
<rect x="345.00" y="394.00" width="3.00" height="1.00" fill="#fff" />
<rect x="385.00" y="413.60" width="1.00" height="3.00" fill="#fff" />
<rect x="345.00" y="391.00" width="3.00" height="1.00" fill="#fff" />
<rect x="374.00" y="413.60" width="1.00" height="3.00" fill="#fff" />
<rect x="345.00" y="380.00" width="3.00" height="1.00" fill="#fff" />
<rect x="371.00" y="413.60" width="1.00" height="3.00" fill="#fff" />
<rect x="345.00" y="377.00" width="3.00" height="1.00" fill="#fff" />
<rect x="368.00" y="413.60" width="1.00" height="3.00" fill="#fff" />
<rect x="345.00" y="374.00" width="3.00" height="1.00" fill="#fff" />
<rect x="357.00" y="413.60" width="1.00" height="3.00" fill="#fff" />
<rect x="345.00" y="363.00" width="3.00" height="1.00" fill="#fff" />
<rect x="354.00" y="413.60" width="1.00" height="3.00" fill="#fff" />
<rect x="345.00" y="360.00" width="3.00" height="1.00" fill="#fff" />
<rect x="351.00" y="413.60" width="1.00" height="3.00" fill="#fff" />
<rect x="345.00" y="357.00" width="3.00" height="1.00" fill="#fff" />
<circle cx="354.2" cy="360.8" r="2" fill="#fff" shape-rendering="geometricPrecision"/>
<polygon points="266.9,440.7 332.0,440.7 336.2,444.9 336.2,510.00000000000006 332.0,514.2 266.9,514.2 262.7,510.00000000000006 262.7,444.9" fill="#000"/>
<rect x="272.00" y="440.70" width="1.00" height="3.00" fill="#fff" />
<rect x="333.20" y="450.00" width="3.00" height="1.00" fill="#fff" />
<rect x="279.00" y="440.70" width="1.00" height="3.00" fill="#fff" />
<rect x="333.20" y="457.00" width="3.00" height="1.00" fill="#fff" />
<rect x="282.00" y="440.70" width="1.00" height="3.00" fill="#fff" />
<rect x="333.20" y="460.00" width="3.00" height="1.00" fill="#fff" />
<rect x="285.00" y="440.70" width="1.00" height="3.00" fill="#fff" />
<rect x="333.20" y="463.00" width="3.00" height="1.00" fill="#fff" />
<rect x="288.00" y="440.70" width="1.00" height="3.00" fill="#fff" />
<rect x="333.20" y="466.00" width="3.00" height="1.00" fill="#fff" />
<rect x="291.00" y="440.70" width="1.00" height="3.00" fill="#fff" />
<rect x="333.20" y="469.00" width="3.00" height="1.00" fill="#fff" />
<rect x="295.00" y="440.70" width="1.00" height="3.00" fill="#fff" />
<rect x="333.20" y="473.00" width="3.00" height="1.00" fill="#fff" />
<rect x="301.00" y="440.70" width="1.00" height="3.00" fill="#fff" />
<rect x="333.20" y="479.00" width="3.00" height="1.00" fill="#fff" />
<rect x="304.00" y="440.70" width="1.00" height="3.00" fill="#fff" />
<rect x="333.20" y="482.00" width="3.00" height="1.00" fill="#fff" />
<rect x="307.00" y="440.70" width="1.00" height="3.00" fill="#fff" />
<rect x="333.20" y="485.00" width="3.00" height="1.00" fill="#fff" />
<rect x="310.00" y="440.70" width="1.00" height="3.00" fill="#fff" />
<rect x="333.20" y="488.00" width="3.00" height="1.00" fill="#fff" />
<rect x="314.00" y="440.70" width="1.00" height="3.00" fill="#fff" />
<rect x="333.20" y="492.00" width="3.00" height="1.00" fill="#fff" />
<rect x="323.00" y="440.70" width="1.00" height="3.00" fill="#fff" />
<rect x="333.20" y="501.00" width="3.00" height="1.00" fill="#fff" />
<rect x="326.00" y="440.70" width="1.00" height="3.00" fill="#fff" />
<rect x="333.20" y="504.00" width="3.00" height="1.00" fill="#fff" />
<rect x="329.00" y="440.70" width="1.00" height="3.00" fill="#fff" />
<rect x="333.20" y="507.00" width="3.00" height="1.00" fill="#fff" />
<rect x="327.00" y="511.20" width="1.00" height="3.00" fill="#fff" />
<rect x="262.70" y="505.00" width="3.00" height="1.00" fill="#fff" />
<rect x="320.00" y="511.20" width="1.00" height="3.00" fill="#fff" />
<rect x="262.70" y="498.00" width="3.00" height="1.00" fill="#fff" />
<rect x="317.00" y="511.20" width="1.00" height="3.00" fill="#fff" />
<rect x="262.70" y="495.00" width="3.00" height="1.00" fill="#fff" />
<rect x="314.00" y="511.20" width="1.00" height="3.00" fill="#fff" />
<rect x="262.70" y="492.00" width="3.00" height="1.00" fill="#fff" />
<rect x="311.00" y="511.20" width="1.00" height="3.00" fill="#fff" />
<rect x="262.70" y="489.00" width="3.00" height="1.00" fill="#fff" />
<rect x="308.00" y="511.20" width="1.00" height="3.00" fill="#fff" />
<rect x="262.70" y="486.00" width="3.00" height="1.00" fill="#fff" />
<rect x="304.00" y="511.20" width="1.00" height="3.00" fill="#fff" />
<rect x="262.70" y="482.00" width="3.00" height="1.00" fill="#fff" />
<rect x="298.00" y="511.20" width="1.00" height="3.00" fill="#fff" />
<rect x="262.70" y="476.00" width="3.00" height="1.00" fill="#fff" />
<rect x="295.00" y="511.20" width="1.00" height="3.00" fill="#fff" />
<rect x="262.70" y="473.00" width="3.00" height="1.00" fill="#fff" />
<rect x="292.00" y="511.20" width="1.00" height="3.00" fill="#fff" />
<rect x="262.70" y="470.00" width="3.00" height="1.00" fill="#fff" />
<rect x="288.00" y="511.20" width="1.00" height="3.00" fill="#fff" />
<rect x="262.70" y="466.00" width="3.00" height="1.00" fill="#fff" />
<rect x="285.00" y="511.20" width="1.00" height="3.00" fill="#fff" />
<rect x="262.70" y="463.00" width="3.00" height="1.00" fill="#fff" />
<rect x="276.00" y="511.20" width="1.00" height="3.00" fill="#fff" />
<rect x="262.70" y="454.00" width="3.00" height="1.00" fill="#fff" />
<rect x="272.00" y="511.20" width="1.00" height="3.00" fill="#fff" />
<rect x="262.70" y="450.00" width="3.00" height="1.00" fill="#fff" />
<rect x="270.00" y="511.20" width="1.00" height="3.00" fill="#fff" />
<rect x="262.70" y="448.00" width="3.00" height="1.00" fill="#fff" />
<circle cx="273" cy="451.4" r="2.7" fill="#fff" shape-rendering="geometricPrecision"/>
<polygon points="232.2,343.7 315.1,343.7 315.1,428 240,428 232.2,420.2" fill="#000"/>
<circle cx="239.8" cy="419.3" r="3.8" fill="#fff" shape-rendering="geometricPrecision"/>
<rect x="348.60" y="438.40" width="47.80" height="26.60" fill="#fff" stroke="#000" stroke-width="1.2" rx="0"/>
<rect x="349.6" y="439.4" width="45.8" height="24.6" rx="3" fill="none" stroke="#000" stroke-width="0.6" shape-rendering="geometricPrecision"/>
<rect x="23.30" y="314.40" width="126.40" height="40.70" fill="#000" />
<rect x="34.60" y="323.30" width="110.80" height="23.00" fill="#fff" />
<rect x="26.00" y="315.40" width="3.30" height="5.40" fill="#fff" />
<rect x="26.00" y="348.50" width="3.30" height="5.30" fill="#fff" />
<rect x="32.07" y="315.40" width="3.30" height="5.40" fill="#fff" />
<rect x="32.07" y="348.50" width="3.30" height="5.30" fill="#fff" />
<rect x="38.14" y="315.40" width="3.30" height="5.40" fill="#fff" />
<rect x="38.14" y="348.50" width="3.30" height="5.30" fill="#fff" />
<rect x="44.21" y="315.40" width="3.30" height="5.40" fill="#fff" />
<rect x="44.21" y="348.50" width="3.30" height="5.30" fill="#fff" />
<rect x="50.28" y="315.40" width="3.30" height="5.40" fill="#fff" />
<rect x="50.28" y="348.50" width="3.30" height="5.30" fill="#fff" />
<rect x="56.35" y="315.40" width="3.30" height="5.40" fill="#fff" />
<rect x="56.35" y="348.50" width="3.30" height="5.30" fill="#fff" />
<rect x="62.42" y="315.40" width="3.30" height="5.40" fill="#fff" />
<rect x="62.42" y="348.50" width="3.30" height="5.30" fill="#fff" />
<rect x="68.49" y="315.40" width="3.30" height="5.40" fill="#fff" />
<rect x="68.49" y="348.50" width="3.30" height="5.30" fill="#fff" />
<rect x="74.56" y="315.40" width="3.30" height="5.40" fill="#fff" />
<rect x="74.56" y="348.50" width="3.30" height="5.30" fill="#fff" />
<rect x="80.63" y="315.40" width="3.30" height="5.40" fill="#fff" />
<rect x="80.63" y="348.50" width="3.30" height="5.30" fill="#fff" />
<rect x="86.70" y="315.40" width="3.30" height="5.40" fill="#fff" />
<rect x="86.70" y="348.50" width="3.30" height="5.30" fill="#fff" />
<rect x="92.77" y="315.40" width="3.30" height="5.40" fill="#fff" />
<rect x="92.77" y="348.50" width="3.30" height="5.30" fill="#fff" />
<rect x="98.84" y="315.40" width="3.30" height="5.40" fill="#fff" />
<rect x="98.84" y="348.50" width="3.30" height="5.30" fill="#fff" />
<rect x="104.91" y="315.40" width="3.30" height="5.40" fill="#fff" />
<rect x="104.91" y="348.50" width="3.30" height="5.30" fill="#fff" />
<rect x="110.98" y="315.40" width="3.30" height="5.40" fill="#fff" />
<rect x="110.98" y="348.50" width="3.30" height="5.30" fill="#fff" />
<rect x="117.05" y="315.40" width="3.30" height="5.40" fill="#fff" />
<rect x="117.05" y="348.50" width="3.30" height="5.30" fill="#fff" />
<rect x="123.12" y="315.40" width="3.30" height="5.40" fill="#fff" />
<rect x="123.12" y="348.50" width="3.30" height="5.30" fill="#fff" />
<rect x="129.19" y="315.40" width="3.30" height="5.40" fill="#fff" />
<rect x="129.19" y="348.50" width="3.30" height="5.30" fill="#fff" />
<rect x="135.26" y="315.40" width="3.30" height="5.40" fill="#fff" />
<rect x="135.26" y="348.50" width="3.30" height="5.30" fill="#fff" />
<rect x="141.33" y="315.40" width="3.30" height="5.40" fill="#fff" />
<rect x="141.33" y="348.50" width="3.30" height="5.30" fill="#fff" />
<path d="M23.3,329 A5.5,6 0 0 1 23.3,341 Z" fill="#fff" shape-rendering="geometricPrecision"/>
<rect x="610.00" y="411.00" width="127.00" height="43.00" fill="#000" />
<line x1="613" y1="413.5" x2="736" y2="413.5" stroke="#fff" stroke-width="1" stroke-dasharray="3,3.2"/>
<rect x="610.00" y="427.00" width="2.00" height="11.60" fill="#fff" />
<rect x="13.00" y="289.20" width="68.00" height="19.20" fill="#000" />
<rect x="14.00" y="290.20" width="66.00" height="17.20" fill="#fff" />
<rect x="19.50" y="293.10" width="4.60" height="10.80" fill="#fff" stroke="#000" stroke-width="1" rx="0"/>
<circle cx="18" cy="292.3" r="2.1" fill="#fff" stroke="#000" stroke-width="0.9" shape-rendering="geometricPrecision"/>
<rect x="27.20" y="293.00" width="5.90" height="11.00" fill="#000" />
<rect x="34.10" y="293.00" width="6.10" height="11.00" fill="#000" />
<rect x="41.30" y="293.00" width="5.90" height="11.00" fill="#000" />
<rect x="49.30" y="293.00" width="5.70" height="11.00" fill="#000" />
<rect x="56.30" y="293.00" width="5.70" height="11.00" fill="#000" />
<rect x="63.20" y="293.00" width="6.00" height="11.00" fill="#000" />
<rect x="71.00" y="293.00" width="6.10" height="11.00" fill="#000" />
<rect x="11.90" y="254.00" width="26.00" height="6.10" fill="#000" />
<rect x="12.90" y="255.00" width="24.00" height="4.10" fill="#fff" />
<rect x="14.70" y="255.00" width="4.40" height="5.10" fill="#000" />
<rect x="20.20" y="255.00" width="4.60" height="5.10" fill="#000" />
<rect x="25.90" y="255.00" width="4.30" height="5.10" fill="#000" />
<rect x="32.20" y="255.00" width="3.90" height="5.10" fill="#000" />
<rect x="33.30" y="256.00" width="1.70" height="2.10" fill="#fff" />
<rect x="77.90" y="249.20" width="31.00" height="6.60" fill="#000" />
<rect x="78.90" y="250.20" width="29.00" height="4.60" fill="#fff" />
<rect x="79.70" y="251.00" width="4.30" height="4.80" fill="#000" />
<rect x="85.20" y="251.00" width="4.90" height="4.80" fill="#000" />
<rect x="91.00" y="251.00" width="5.30" height="4.80" fill="#000" />
<rect x="97.10" y="251.00" width="5.30" height="4.80" fill="#000" />
<rect x="103.20" y="251.00" width="4.40" height="4.80" fill="#000" />
<rect x="104.30" y="252.00" width="2.20" height="1.80" fill="#fff" />
<rect x="98.00" y="257.00" width="19.00" height="6.00" fill="#000" />
<rect x="109.00" y="258.00" width="7.00" height="4.00" fill="#fff" />
<rect x="99.00" y="261.00" width="17.00" height="1.00" fill="#fff" />
<rect x="104.00" y="258.00" width="1.00" height="3.00" fill="#fff" />
<rect x="111.00" y="258.00" width="4.00" height="3.00" fill="#000" />
<rect x="112.00" y="259.00" width="2.00" height="1.00" fill="#fff" />
<rect x="98.00" y="263.00" width="13.00" height="21.60" fill="#000" />
<rect x="104.00" y="264.00" width="1.00" height="5.00" fill="#fff" />
<rect x="99.00" y="269.00" width="11.00" height="1.00" fill="#fff" />
<rect x="104.00" y="272.00" width="1.00" height="6.00" fill="#fff" />
<rect x="104.00" y="279.00" width="1.00" height="5.00" fill="#fff" />
<rect x="109.00" y="272.00" width="1.00" height="6.00" fill="#fff" />
<rect x="109.00" y="279.00" width="1.00" height="5.00" fill="#fff" />
<rect x="395.90" y="83.90" width="18.90" height="5.60" fill="#000" />
<rect x="402.00" y="85.00" width="0.90" height="3.40" fill="#fff" />
<rect x="407.60" y="85.00" width="0.90" height="3.40" fill="#fff" />
<rect x="410.20" y="85.70" width="2.10" height="2.00" fill="#fff" />
<rect x="395.90" y="103.90" width="18.90" height="6.00" fill="#000" />
<rect x="402.00" y="105.00" width="0.90" height="3.80" fill="#fff" />
<rect x="407.60" y="105.00" width="0.90" height="3.80" fill="#fff" />
<rect x="410.20" y="105.70" width="2.10" height="2.40" fill="#fff" />
<rect x="395.90" y="93.90" width="18.90" height="6.50" fill="#000" />
<rect x="396.90" y="94.80" width="10.20" height="3.60" fill="#fff" />
<rect x="401.50" y="94.80" width="0.90" height="3.60" fill="#000" />
<rect x="407.10" y="94.80" width="1.00" height="4.60" fill="#fff" />
<rect x="410.20" y="95.90" width="2.00" height="2.00" fill="#fff" />
<rect x="639.10" y="399.80" width="13.90" height="7.10" fill="#000" />
<rect x="640.10" y="400.80" width="11.90" height="4.90" fill="#fff" />
<rect x="641.40" y="399.80" width="3.80" height="4.90" fill="#000" />
<rect x="647.00" y="399.80" width="3.90" height="4.90" fill="#000" />
<rect x="666.40" y="399.80" width="12.30" height="7.10" fill="#000" />
<rect x="667.40" y="400.80" width="10.30" height="4.90" fill="#fff" />
<rect x="666.40" y="399.80" width="5.10" height="4.90" fill="#000" />
<rect x="673.40" y="399.80" width="3.80" height="4.90" fill="#000" />
<rect x="688.20" y="399.80" width="12.00" height="7.10" fill="#000" />
<rect x="689.20" y="400.80" width="10.00" height="4.90" fill="#fff" />
<rect x="688.20" y="399.80" width="5.00" height="4.90" fill="#000" />
<rect x="695.60" y="399.80" width="3.70" height="4.90" fill="#000" />
<rect x="711.20" y="399.80" width="13.60" height="7.10" fill="#000" />
<rect x="712.20" y="400.80" width="11.60" height="4.90" fill="#fff" />
<rect x="713.40" y="399.80" width="3.80" height="4.90" fill="#000" />
<rect x="719.10" y="399.80" width="3.80" height="4.90" fill="#000" />
<rect x="398.10" y="479.00" width="13.10" height="6.70" fill="#000" />
<rect x="399.10" y="480.00" width="11.10" height="4.70" fill="#fff" />
<rect x="399.10" y="480.00" width="5.00" height="3.70" fill="#000" />
<rect x="399.10" y="483.20" width="10.60" height="0.90" fill="#000" />
<rect x="407.70" y="480.20" width="1.00" height="3.50" fill="#000" />
<path d="M751.5,384.4 H775 Q777.3,389 775.6,397 Q777.6,398.8 775.6,400.6 Q776.8,406 775.6,410.6 Q777.6,412.4 775.6,414.2 Q777.2,420 775,424.4 H751.5 Q749.3,420 750.9,414.2 Q748.9,412.4 750.9,410.6 Q749.7,406 750.9,400.6 Q748.9,398.8 750.9,397 Q749.2,389 751.5,384.4 Z" fill="url(#dots)" stroke="#000" stroke-width="1" shape-rendering="geometricPrecision"/>
<circle cx="763.8" cy="377.9" r="1.9" fill="#000" shape-rendering="geometricPrecision"/>
<rect x="760.60" y="377.60" width="3.00" height="1.00" fill="#000" />
<rect x="755.00" y="456.00" width="24.00" height="37.00" fill="#000" />
<rect x="779.00" y="451.00" width="3.00" height="46.00" fill="#000" />
<rect x="782.00" y="449.00" width="4.00" height="51.00" fill="#000" />
<rect x="748.00" y="464.00" width="5.00" height="8.00" fill="#000" />
<rect x="749.00" y="465.00" width="3.00" height="6.00" fill="#fff" />
<rect x="752.00" y="462.00" width="3.00" height="11.00" fill="#000" />
<rect x="753.40" y="464.50" width="1.60" height="1.00" fill="#fff" />
<rect x="753.40" y="466.70" width="1.60" height="1.00" fill="#fff" />
<rect x="753.40" y="468.90" width="1.60" height="1.00" fill="#fff" />
<rect x="748.00" y="477.00" width="5.00" height="8.00" fill="#000" />
<rect x="749.00" y="478.00" width="3.00" height="6.00" fill="#fff" />
<rect x="752.00" y="475.00" width="3.00" height="11.00" fill="#000" />
<rect x="753.40" y="477.50" width="1.60" height="1.00" fill="#fff" />
<rect x="753.40" y="479.70" width="1.60" height="1.00" fill="#fff" />
<rect x="753.40" y="481.90" width="1.60" height="1.00" fill="#fff" />
<rect x="753.00" y="473.00" width="2.00" height="3.00" fill="#fff" />
<rect x="620.80" y="490.40" width="110.60" height="23.80" fill="#fff" stroke="#000" stroke-width="1" rx="0"/>
<rect x="620.30" y="498.20" width="111.60" height="0.90" fill="#000" />
<rect x="622.90" y="494.30" width="6.80" height="2.30" fill="#000" />
<rect x="624.90" y="492.60" width="2.70" height="5.80" fill="#000" />
<rect x="623.60" y="500.30" width="5.20" height="2.10" fill="#fff" stroke="#000" stroke-width="0.8" rx="0"/>
<rect x="626.20" y="504.60" width="5.60" height="5.90" fill="#fff" stroke="#000" stroke-width="1" rx="0"/>
<rect x="632.05" y="494.30" width="6.80" height="2.30" fill="#000" />
<rect x="634.05" y="492.60" width="2.70" height="5.80" fill="#000" />
<rect x="632.75" y="500.30" width="5.20" height="2.10" fill="#fff" stroke="#000" stroke-width="0.8" rx="0"/>
<rect x="634.80" y="504.60" width="5.60" height="5.90" fill="#fff" stroke="#000" stroke-width="1" rx="0"/>
<rect x="641.20" y="494.30" width="6.80" height="2.30" fill="#000" />
<rect x="643.20" y="492.60" width="2.70" height="5.80" fill="#000" />
<rect x="641.90" y="500.30" width="5.20" height="2.10" fill="#fff" stroke="#000" stroke-width="0.8" rx="0"/>
<rect x="643.40" y="504.60" width="5.60" height="5.90" fill="#fff" stroke="#000" stroke-width="1" rx="0"/>
<rect x="650.35" y="494.30" width="6.80" height="2.30" fill="#000" />
<rect x="652.35" y="492.60" width="2.70" height="5.80" fill="#000" />
<rect x="651.05" y="500.30" width="5.20" height="2.10" fill="#fff" stroke="#000" stroke-width="0.8" rx="0"/>
<rect x="652.00" y="504.60" width="5.60" height="5.90" fill="#fff" stroke="#000" stroke-width="1" rx="0"/>
<rect x="659.50" y="494.30" width="6.80" height="2.30" fill="#000" />
<rect x="661.50" y="492.60" width="2.70" height="5.80" fill="#000" />
<rect x="660.20" y="500.30" width="5.20" height="2.10" fill="#fff" stroke="#000" stroke-width="0.8" rx="0"/>
<rect x="660.60" y="504.60" width="5.60" height="5.90" fill="#fff" stroke="#000" stroke-width="1" rx="0"/>
<rect x="668.65" y="494.30" width="6.80" height="2.30" fill="#000" />
<rect x="670.65" y="492.60" width="2.70" height="5.80" fill="#000" />
<rect x="669.35" y="500.30" width="5.20" height="2.10" fill="#fff" stroke="#000" stroke-width="0.8" rx="0"/>
<rect x="669.20" y="504.60" width="5.60" height="5.90" fill="#fff" stroke="#000" stroke-width="1" rx="0"/>
<rect x="677.80" y="494.30" width="6.80" height="2.30" fill="#000" />
<rect x="679.80" y="492.60" width="2.70" height="5.80" fill="#000" />
<rect x="678.50" y="500.30" width="5.20" height="2.10" fill="#fff" stroke="#000" stroke-width="0.8" rx="0"/>
<rect x="677.80" y="504.60" width="5.60" height="5.90" fill="#fff" stroke="#000" stroke-width="1" rx="0"/>
<rect x="686.95" y="494.30" width="6.80" height="2.30" fill="#000" />
<rect x="688.95" y="492.60" width="2.70" height="5.80" fill="#000" />
<rect x="687.65" y="500.30" width="5.20" height="2.10" fill="#fff" stroke="#000" stroke-width="0.8" rx="0"/>
<rect x="686.40" y="504.60" width="5.60" height="5.90" fill="#fff" stroke="#000" stroke-width="1" rx="0"/>
<rect x="696.10" y="494.30" width="6.80" height="2.30" fill="#000" />
<rect x="698.10" y="492.60" width="2.70" height="5.80" fill="#000" />
<rect x="696.80" y="500.30" width="5.20" height="2.10" fill="#fff" stroke="#000" stroke-width="0.8" rx="0"/>
<rect x="695.00" y="504.60" width="5.60" height="5.90" fill="#fff" stroke="#000" stroke-width="1" rx="0"/>
<rect x="705.25" y="494.30" width="6.80" height="2.30" fill="#000" />
<rect x="707.25" y="492.60" width="2.70" height="5.80" fill="#000" />
<rect x="705.95" y="500.30" width="5.20" height="2.10" fill="#fff" stroke="#000" stroke-width="0.8" rx="0"/>
<rect x="703.60" y="504.60" width="5.60" height="5.90" fill="#fff" stroke="#000" stroke-width="1" rx="0"/>
<rect x="714.40" y="494.30" width="6.80" height="2.30" fill="#000" />
<rect x="716.40" y="492.60" width="2.70" height="5.80" fill="#000" />
<rect x="715.10" y="500.30" width="5.20" height="2.10" fill="#fff" stroke="#000" stroke-width="0.8" rx="0"/>
<rect x="712.20" y="504.60" width="5.60" height="5.90" fill="#fff" stroke="#000" stroke-width="1" rx="0"/>
<rect x="723.55" y="494.30" width="6.80" height="2.30" fill="#000" />
<rect x="725.55" y="492.60" width="2.70" height="5.80" fill="#000" />
<rect x="724.25" y="500.30" width="5.20" height="2.10" fill="#fff" stroke="#000" stroke-width="0.8" rx="0"/>
<rect x="720.80" y="504.60" width="5.60" height="5.90" fill="#fff" stroke="#000" stroke-width="1" rx="0"/>
<rect x="620.30" y="504.50" width="2.40" height="1.20" fill="#000" />
<rect x="620.30" y="509.00" width="2.40" height="1.20" fill="#000" />
<rect x="622.00" y="504.50" width="1.00" height="5.50" fill="#000" />
<rect x="729.50" y="504.50" width="2.40" height="1.20" fill="#000" />
<rect x="729.50" y="509.00" width="2.40" height="1.20" fill="#000" />
<rect x="729.50" y="504.50" width="1.00" height="5.50" fill="#000" />
<rect x="71.10" y="116.00" width="59.50" height="19.20" fill="#000" rx="3.2" shape-rendering="geometricPrecision"/>
<rect x="72.90" y="117.80" width="55.40" height="15.00" fill="#fff" rx="1.2" shape-rendering="geometricPrecision"/>
<text transform="translate(75.20,128.80) scale(0.74,1)" font-size="13" letter-spacing="3.319" stroke="#000" stroke-width="0.25">BANK 0</text>
<rect x="13.30" y="218.20" width="25.50" height="17.80" fill="#000" rx="3.2" shape-rendering="geometricPrecision"/>
<polygon points="22,235 25,254.5 28.2,235" fill="#fff" stroke="#000" stroke-width="2.2" stroke-linejoin="miter" stroke-miterlimit="3" shape-rendering="geometricPrecision"/>
<rect x="15.10" y="220.00" width="21.40" height="13.60" fill="#fff" rx="1.2" shape-rendering="geometricPrecision"/>
<polygon points="23.55,232.00 23.55,235.00 25.07,240.85 26.65,235.00 26.65,232.00" fill="#fff" shape-rendering="geometricPrecision"/>
<text transform="translate(17.40,230.60) scale(0.74,1)" font-size="13" letter-spacing="5.495" stroke="#000" stroke-width="0.25">SP</text>
<rect x="6.90" y="261.70" width="32.70" height="17.90" fill="#000" rx="3.2" shape-rendering="geometricPrecision"/>
<polygon points="34.6,279.2 45.2,287.2 39.3,276.6" fill="#000" stroke="#000" stroke-width="1.2" stroke-linejoin="miter" stroke-miterlimit="3" shape-rendering="geometricPrecision"/>
<rect x="8.70" y="263.50" width="28.60" height="13.70" fill="#fff" rx="1.2" shape-rendering="geometricPrecision"/>
<text transform="translate(9.70,274.80) scale(0.74,1)" font-size="13" letter-spacing="2.874" stroke="#000" stroke-width="0.25">SW1</text>
<rect x="116.10" y="225.80" width="31.30" height="16.10" fill="#000" rx="3.2" shape-rendering="geometricPrecision"/>
<polygon points="116.8,237.6 108.8,249.6 121,241.2" fill="#000" stroke="#000" stroke-width="1.2" stroke-linejoin="miter" stroke-miterlimit="3" shape-rendering="geometricPrecision"/>
<rect x="117.90" y="227.60" width="27.20" height="11.90" fill="#fff" rx="1.2" shape-rendering="geometricPrecision"/>
<text transform="translate(119.40,237.80) scale(0.74,1)" font-size="13" letter-spacing="4.251" stroke="#000" stroke-width="0.25">J20</text>
<rect x="131.70" y="251.40" width="34.70" height="16.10" fill="#000" rx="3.2" shape-rendering="geometricPrecision"/>
<polygon points="132.7,256.3 117.3,259.7 132.7,262.7" fill="#fff" stroke="#000" stroke-width="2.2" stroke-linejoin="miter" stroke-miterlimit="3" shape-rendering="geometricPrecision"/>
<rect x="133.50" y="253.20" width="30.60" height="11.90" fill="#fff" rx="1.2" shape-rendering="geometricPrecision"/>
<polygon points="135.70,257.90 132.70,257.90 128.08,259.56 132.70,261.10 135.70,261.10" fill="#fff" shape-rendering="geometricPrecision"/>
<text transform="translate(137.40,263.60) scale(0.74,1)" font-size="13" letter-spacing="3.529" stroke="#000" stroke-width="0.25">JP9</text>
<rect x="46.30" y="259.60" width="34.70" height="16.50" fill="#000" rx="3.2" shape-rendering="geometricPrecision"/>
<polygon points="80,264.5 97.2,267.8 80,271" fill="#fff" stroke="#000" stroke-width="2.2" stroke-linejoin="miter" stroke-miterlimit="3" shape-rendering="geometricPrecision"/>
<rect x="48.10" y="261.40" width="30.60" height="12.30" fill="#fff" rx="1.2" shape-rendering="geometricPrecision"/>
<polygon points="77.00,266.12 80.00,266.12 85.16,267.76 80.00,269.38 77.00,269.38" fill="#fff" shape-rendering="geometricPrecision"/>
<text transform="translate(51.10,271.90) scale(0.74,1)" font-size="13" letter-spacing="4.543" stroke="#000" stroke-width="0.25">JP8</text>
<rect x="119.00" y="280.80" width="31.30" height="17.10" fill="#000" rx="3.2" shape-rendering="geometricPrecision"/>
<polygon points="119.6,286 112.6,273.6 124.6,281.3" fill="#fff" stroke="#000" stroke-width="2.2" stroke-linejoin="miter" stroke-miterlimit="3" shape-rendering="geometricPrecision"/>
<rect x="120.80" y="282.60" width="27.20" height="12.90" fill="#fff" rx="1.2" shape-rendering="geometricPrecision"/>
<polygon points="123.85,287.82 120.85,284.82 119.25,280.63 123.35,282.48 126.35,285.48" fill="#fff" shape-rendering="geometricPrecision"/>
<text transform="translate(122.20,293.00) scale(0.74,1)" font-size="13" letter-spacing="3.529" stroke="#000" stroke-width="0.25">JP7</text>
<rect x="87.20" y="301.10" width="33.80" height="17.70" fill="#000" rx="3.2" shape-rendering="geometricPrecision"/>
<polygon points="102.6,302.1 104.8,284.8 107.6,302.1" fill="#fff" stroke="#000" stroke-width="2.2" stroke-linejoin="miter" stroke-miterlimit="3" shape-rendering="geometricPrecision"/>
<rect x="89.00" y="302.90" width="29.70" height="13.50" fill="#fff" rx="1.2" shape-rendering="geometricPrecision"/>
<polygon points="103.85,305.10 103.85,302.10 105.01,296.91 106.35,302.10 106.35,305.10" fill="#fff" shape-rendering="geometricPrecision"/>
<text transform="translate(92.30,313.40) scale(0.74,1)" font-size="13" letter-spacing="3.259" stroke="#000" stroke-width="0.25">JP6</text>
<rect x="311.50" y="34.00" width="58.40" height="17.90" fill="#000" rx="3.2" shape-rendering="geometricPrecision"/>
<rect x="313.30" y="35.80" width="54.30" height="13.70" fill="#fff" rx="1.2" shape-rendering="geometricPrecision"/>
<text transform="translate(314.30,46.80) scale(0.74,1)" font-size="13" letter-spacing="3.697" stroke="#000" stroke-width="0.25">BANK 3</text>
<rect x="549.80" y="34.20" width="58.80" height="17.70" fill="#000" rx="3.2" shape-rendering="geometricPrecision"/>
<rect x="551.60" y="36.00" width="54.70" height="13.50" fill="#fff" rx="1.2" shape-rendering="geometricPrecision"/>
<text transform="translate(553.40,46.80) scale(0.74,1)" font-size="13" letter-spacing="3.265" stroke="#000" stroke-width="0.25">BANK 4</text>
<rect x="87.20" y="321.00" width="5.60" height="28.00" fill="#000" />
<rect x="70.20" y="325.70" width="32.80" height="18.50" fill="#000" rx="3.2" shape-rendering="geometricPrecision"/>
<rect x="72.00" y="327.50" width="28.70" height="14.30" fill="#fff" rx="1.2" shape-rendering="geometricPrecision"/>
<text transform="translate(74.40,338.80) scale(0.74,1)" font-size="13" letter-spacing="3.506" stroke="#000" stroke-width="0.25">NPU</text>
<rect x="338.00" y="76.90" width="42.50" height="19.00" fill="#000" rx="3.2" shape-rendering="geometricPrecision"/>
<polygon points="379.5,83.2 396.5,86.4 379.5,89.2" fill="#fff" stroke="#000" stroke-width="2.2" stroke-linejoin="miter" stroke-miterlimit="3" shape-rendering="geometricPrecision"/>
<rect x="339.80" y="78.70" width="38.40" height="14.80" fill="#fff" rx="1.2" shape-rendering="geometricPrecision"/>
<polygon points="376.50,84.70 379.50,84.70 384.60,86.26 379.50,87.70 376.50,87.70" fill="#fff" shape-rendering="geometricPrecision"/>
<text transform="translate(342.30,89.30) scale(0.74,1)" font-size="13" letter-spacing="3.502" stroke="#000" stroke-width="0.25">JP23</text>
<rect x="338.00" y="96.80" width="42.50" height="18.80" fill="#000" rx="3.2" shape-rendering="geometricPrecision"/>
<polygon points="379.5,103.3 396.5,106.8 379.5,109.8" fill="#fff" stroke="#000" stroke-width="2.2" stroke-linejoin="miter" stroke-miterlimit="3" shape-rendering="geometricPrecision"/>
<rect x="339.80" y="98.60" width="38.40" height="14.60" fill="#fff" rx="1.2" shape-rendering="geometricPrecision"/>
<polygon points="376.50,104.92 379.50,104.92 384.60,106.62 379.50,108.17 376.50,108.17" fill="#fff" shape-rendering="geometricPrecision"/>
<text transform="translate(342.30,109.30) scale(0.74,1)" font-size="13" letter-spacing="3.231" stroke="#000" stroke-width="0.25">JP21</text>
<rect x="431.00" y="88.60" width="42.60" height="17.30" fill="#000" rx="3.2" shape-rendering="geometricPrecision"/>
<polygon points="432,93 415.8,96.9 432,100.6" fill="#fff" stroke="#000" stroke-width="2.2" stroke-linejoin="miter" stroke-miterlimit="3" shape-rendering="geometricPrecision"/>
<rect x="432.80" y="90.40" width="38.50" height="13.10" fill="#fff" rx="1.2" shape-rendering="geometricPrecision"/>
<polygon points="435.00,94.90 432.00,94.90 427.14,96.83 432.00,98.70 435.00,98.70" fill="#fff" shape-rendering="geometricPrecision"/>
<text transform="translate(434.40,100.50) scale(0.74,1)" font-size="13" letter-spacing="3.367" stroke="#000" stroke-width="0.25">JP22</text>
<rect x="426.90" y="473.10" width="36.10" height="18.70" fill="#000" rx="3.2" shape-rendering="geometricPrecision"/>
<polygon points="427.9,479.2 412,482.6 427.9,485.7" fill="#fff" stroke="#000" stroke-width="2.2" stroke-linejoin="miter" stroke-miterlimit="3" shape-rendering="geometricPrecision"/>
<rect x="428.70" y="474.90" width="32.00" height="14.50" fill="#fff" rx="1.2" shape-rendering="geometricPrecision"/>
<polygon points="430.90,480.82 427.90,480.82 423.13,482.50 427.90,484.07 430.90,484.07" fill="#fff" shape-rendering="geometricPrecision"/>
<text transform="translate(432.50,485.70) scale(0.74,1)" font-size="13" letter-spacing="3.259" stroke="#000" stroke-width="0.25">JP5</text>
<rect x="598.10" y="379.30" width="33.50" height="17.10" fill="#000" rx="3.2" shape-rendering="geometricPrecision"/>
<polygon points="623.5,395.4 640.5,403 630.6,389.5" fill="#fff" stroke="#000" stroke-width="2.2" stroke-linejoin="miter" stroke-miterlimit="3" shape-rendering="geometricPrecision"/>
<rect x="599.90" y="381.10" width="29.40" height="12.90" fill="#fff" rx="1.2" shape-rendering="geometricPrecision"/>
<polygon points="622.27,390.92 625.27,393.92 631.08,395.62 628.83,390.98 625.83,387.98" fill="#fff" shape-rendering="geometricPrecision"/>
<text transform="translate(602.60,391.90) scale(0.74,1)" font-size="13" letter-spacing="4.002" stroke="#000" stroke-width="0.25">JP1</text>
<rect x="633.80" y="374.10" width="31.00" height="16.20" fill="#000" rx="3.2" shape-rendering="geometricPrecision"/>
<polygon points="656.5,389.3 674,400.8 663.8,384" fill="#fff" stroke="#000" stroke-width="2.2" stroke-linejoin="miter" stroke-miterlimit="3" shape-rendering="geometricPrecision"/>
<rect x="635.60" y="375.90" width="26.90" height="12.00" fill="#fff" rx="1.2" shape-rendering="geometricPrecision"/>
<polygon points="655.33,384.98 658.33,387.98 664.30,390.89 661.97,385.32 658.97,382.32" fill="#fff" shape-rendering="geometricPrecision"/>
<text transform="translate(636.70,386.90) scale(0.74,1)" font-size="13" letter-spacing="4.070" stroke="#000" stroke-width="0.25">JP2</text>
<rect x="678.70" y="364.10" width="33.60" height="17.50" fill="#000" rx="3.2" shape-rendering="geometricPrecision"/>
<polygon points="690.8,380.6 694.4,400.5 697.6,380.6" fill="#fff" stroke="#000" stroke-width="2.2" stroke-linejoin="miter" stroke-miterlimit="3" shape-rendering="geometricPrecision"/>
<rect x="680.50" y="365.90" width="29.50" height="13.30" fill="#fff" rx="1.2" shape-rendering="geometricPrecision"/>
<polygon points="692.50,377.60 692.50,380.60 694.26,386.57 695.90,380.60 695.90,377.60" fill="#fff" shape-rendering="geometricPrecision"/>
<text transform="translate(682.30,377.00) scale(0.74,1)" font-size="13" letter-spacing="4.746" stroke="#000" stroke-width="0.25">JP3</text>
<rect x="723.70" y="374.10" width="34.60" height="16.60" fill="#000" rx="3.2" shape-rendering="geometricPrecision"/>
<polygon points="724.7,384 716.8,400.8 733,389.7" fill="#fff" stroke="#000" stroke-width="2.2" stroke-linejoin="miter" stroke-miterlimit="3" shape-rendering="geometricPrecision"/>
<rect x="725.50" y="375.90" width="30.50" height="12.40" fill="#fff" rx="1.2" shape-rendering="geometricPrecision"/>
<polygon points="729.78,382.43 726.78,385.43 725.24,391.04 730.92,388.27 733.92,385.27" fill="#fff" shape-rendering="geometricPrecision"/>
<text transform="translate(727.80,386.90) scale(0.74,1)" font-size="13" letter-spacing="4.746" stroke="#000" stroke-width="0.25">JP4</text>
<rect x="200.50" y="104.20" width="59.50" height="16.80" fill="#000" />
<rect x="202.7" y="106" width="55.2" height="13.2" rx="1.5" fill="#fff"/>
<text transform="translate(205.20,117.30) scale(0.74,1)" font-size="13" letter-spacing="3.670" stroke="#000" stroke-width="0.25">BANK 1</text>
<rect x="271.50" y="103.30" width="58.80" height="17.00" fill="#000" />
<rect x="273.5" y="105.1" width="55.2" height="12" rx="1.5" fill="#fff"/>
<text transform="translate(275.10,115.80) scale(0.74,1)" font-size="13" letter-spacing="3.454" stroke="#000" stroke-width="0.25">BANK 2</text>
<rect x="214.70" y="180.90" width="21.40" height="13.70" fill="#fff" />
<text transform="translate(218.00,191.00) scale(0.74,1)" font-size="13" letter-spacing="3.289" stroke="#000" stroke-width="0.25">P1</text>
<rect x="284.90" y="181.60" width="20.90" height="13.90" fill="#fff" />
<text transform="translate(287.30,191.90) scale(0.74,1)" font-size="13" letter-spacing="4.505" stroke="#000" stroke-width="0.25">P2</text>
<rect x="260.00" y="379.00" width="27.90" height="13.90" fill="#fff" />
<text transform="translate(260.60,389.90) scale(0.74,1)" font-size="13" letter-spacing="3.911" stroke="#000" stroke-width="0.25">CPU</text>
<rect x="658.8" y="425.8" width="29.1" height="14.2" rx="2" fill="#fff"/>
<text transform="translate(661.50,435.70) scale(0.74,1)" font-size="13" letter-spacing="2.851" stroke="#000" stroke-width="0.25">KBD</text>
<rect x="171.80" y="249.80" width="78.20" height="13.90" fill="#fff" />
<text transform="translate(172.30,260.10) scale(0.74,1)" font-size="13" letter-spacing="3.250" stroke="#000" stroke-width="0.25">BIOS/EVEN</text>
<rect x="171.80" y="291.20" width="78.20" height="14.20" fill="#fff" />
<text transform="translate(177.00,301.80) scale(0.74,1)" font-size="13" letter-spacing="3.197" stroke="#000" stroke-width="0.25">BIOS/ODD</text>
<text transform="translate(653.70,106.20) scale(0.9,1)" font-size="10.6" letter-spacing="1.854" stroke="#000" stroke-width="0.25">MH0435</text>
</svg>
</body></html>
